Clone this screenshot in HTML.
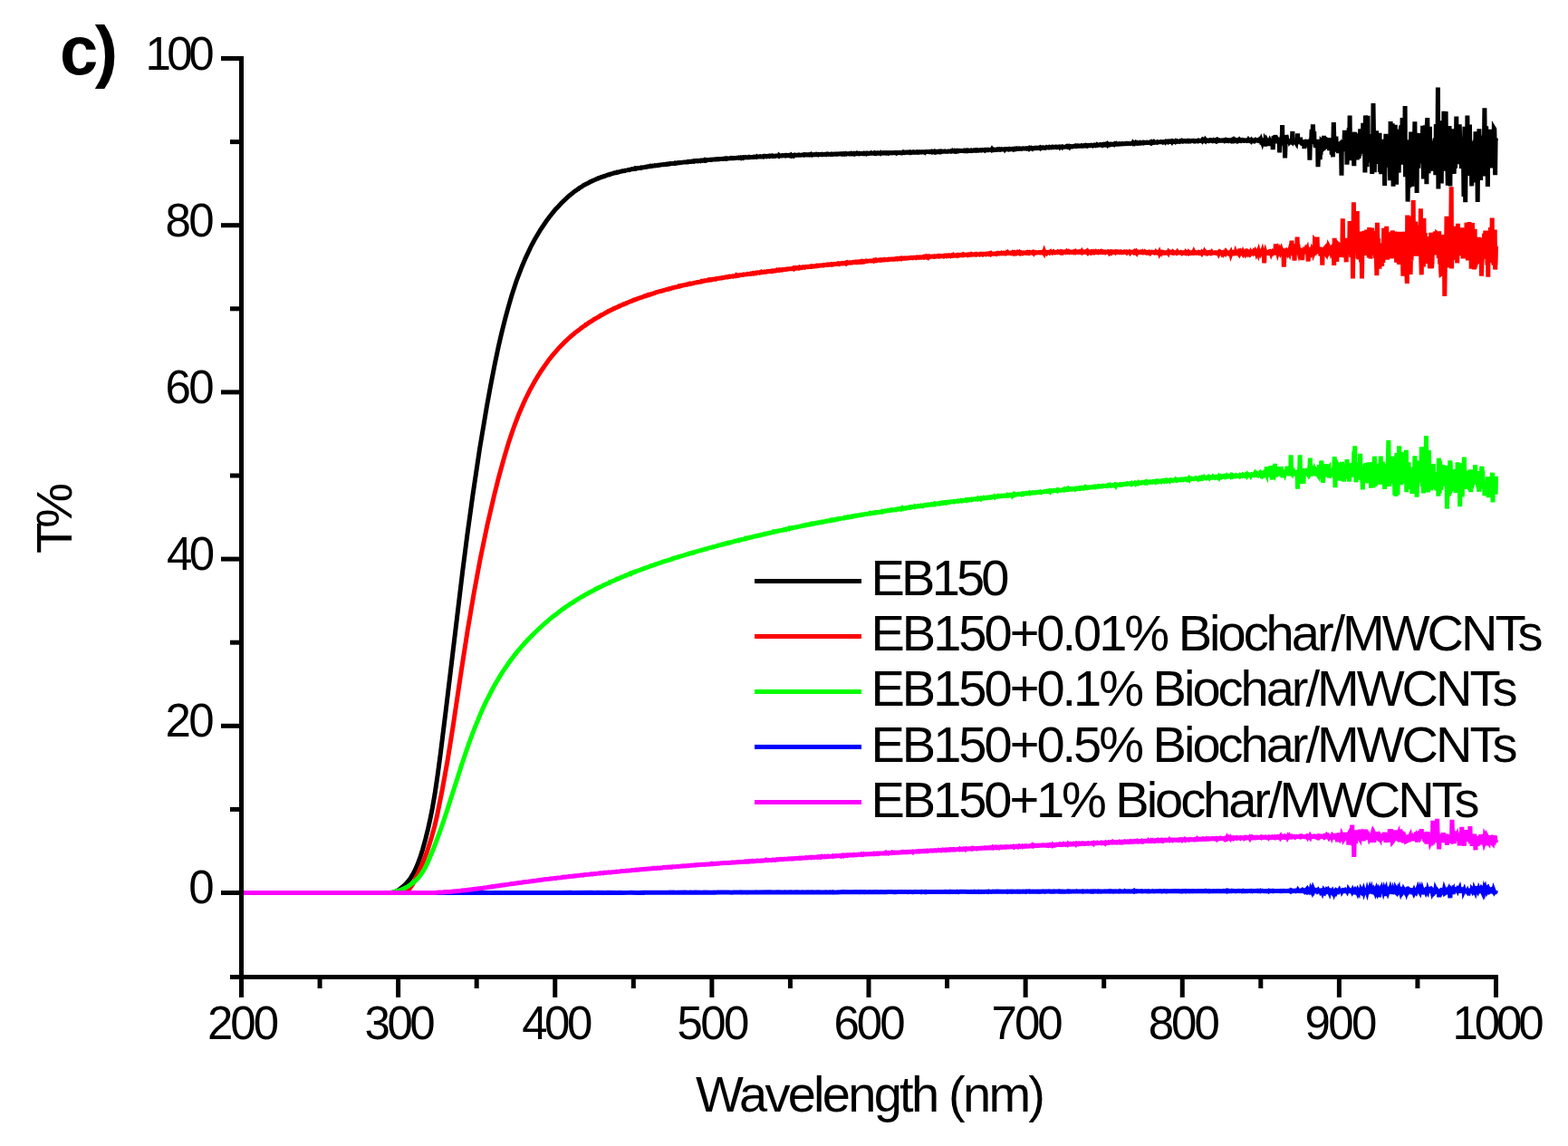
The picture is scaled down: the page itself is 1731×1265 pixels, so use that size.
<!DOCTYPE html>
<html><head><meta charset="utf-8"><style>
html,body{margin:0;padding:0;background:#fff;}
svg{display:block;}
text{font-family:"Liberation Sans",Arial,sans-serif;fill:#000;}
</style></head><body>
<svg width="1731" height="1265" viewBox="0 0 1731 1265">
<rect width="1731" height="1265" fill="#fff"/>
<g fill="none" stroke-width="5" stroke-linejoin="miter" stroke-linecap="butt">
<path d="M266.5,985.5 434.0,985.5 437.9,983.6 440.9,981.8 444.4,979.1 447.4,976.3 450.9,972.4 453.5,968.9 455.6,965.4 458.2,960.5 460.8,954.6 464.3,945.0 466.5,938.0 469.9,925.6 472.5,915.1 475.1,903.3 477.3,892.3 479.9,877.3 483.3,854.3 486.4,831.2 493.3,775.2 510.6,631.2 515.8,590.7 521.9,546.6 529.6,495.0 537.4,448.7 541.3,427.3 546.1,402.6 550.4,382.0 553.9,366.9 557.8,351.3 561.7,337.1 564.7,326.8 570.3,309.6 576.4,293.7 580.3,284.6 586.3,271.8 590.2,264.6 596.7,253.6 602.8,244.5 606.7,239.2 613.6,230.6 614.5,229.9 619.7,224.2 627.9,216.4 632.7,212.7 634.0,211.4 635.7,210.4 638.3,208.5 638.7,208.5 639.6,207.6 643.0,205.6 643.5,205.1 646.1,203.6 646.9,203.3 647.4,202.9 649.5,202.0 650.8,201.1 651.3,201.1 652.1,200.5 653.0,200.1 653.4,200.1 654.7,199.2 655.2,199.2 656.0,198.7 657.8,198.1 658.2,197.7 659.9,197.2 660.4,196.8 660.8,196.9 661.7,196.3 662.5,196.2 663.0,195.8 663.8,195.5 664.3,195.5 665.6,195.1 666.0,194.7 666.9,194.7 667.3,194.4 667.7,194.3 671.2,193.0 672.5,192.8 672.9,192.4 673.3,192.5 674.2,192.1 676.8,191.5 677.7,191.0 680.7,190.6 681.1,190.2 681.6,190.3 682.4,189.9 683.7,189.8 684.2,189.5 686.3,189.0 686.8,189.0 687.2,188.8 689.8,188.5 690.2,188.1 692.4,187.9 694.1,187.4 694.6,187.6 697.6,186.6 698.0,186.7 700.6,186.3 701.0,185.9 701.9,186.2 702.3,185.8 704.1,185.7 704.9,185.4 707.1,185.2 707.5,185.0 708.0,185.3 708.4,185.0 710.1,184.7 711.9,184.5 712.7,184.3 713.2,184.4 713.6,184.2 714.9,184.1 715.3,183.8 716.6,183.7 717.1,183.5 717.5,183.6 717.9,183.3 718.4,183.6 718.8,183.5 719.7,183.2 720.1,183.4 721.0,183.1 722.7,183.0 723.1,182.7 724.0,182.8 725.3,182.5 725.7,182.6 726.1,182.3 727.4,182.5 728.7,182.1 729.6,182.1 730.9,181.7 731.8,181.8 732.6,181.6 733.1,181.7 734.4,181.3 735.7,181.4 736.1,181.2 736.5,181.3 737.0,181.0 737.8,181.1 738.7,180.8 739.6,180.9 740.0,180.6 741.7,180.6 743.9,180.3 744.3,180.4 744.8,180.1 745.2,180.3 745.6,180.0 746.9,180.2 747.8,179.8 748.2,179.9 749.1,179.6 750.4,179.7 750.8,179.5 751.7,179.5 753.0,179.2 753.4,179.3 755.6,178.9 758.2,178.9 759.0,178.5 759.5,178.7 760.3,178.4 760.8,178.6 762.1,178.3 763.4,178.4 763.8,178.1 764.7,178.2 765.1,177.9 765.5,177.9 766.0,178.2 766.4,177.8 766.8,178.0 768.1,177.6 769.0,177.8 769.4,177.5 770.7,177.8 771.2,177.5 771.6,177.6 772.9,177.2 773.3,177.5 773.8,177.1 775.1,177.3 775.5,177.0 776.4,177.0 777.2,177.2 777.7,176.7 778.1,177.0 778.5,176.6 778.9,176.8 779.4,176.7 779.8,177.0 780.7,176.6 783.3,176.6 784.6,176.2 785.4,176.4 787.2,176.0 788.0,176.1 790.2,175.8 791.1,175.9 791.9,175.6 793.2,175.9 793.7,175.5 795.8,175.6 797.1,175.3 798.4,175.5 799.3,175.1 799.7,175.2 800.6,175.0 801.0,175.2 801.9,174.9 802.3,175.2 802.8,174.9 803.6,175.0 806.2,174.7 806.6,174.5 807.5,174.7 807.9,174.6 808.8,174.7 809.2,174.5 810.1,174.7 813.1,174.2 813.6,174.3 814.9,174.3 815.3,174.1 815.7,174.3 817.5,174.0 817.9,174.3 818.3,173.8 819.2,174.1 820.1,173.8 820.5,174.1 820.9,173.7 821.8,173.8 822.7,173.5 823.1,173.8 825.3,173.5 825.7,173.8 826.6,173.6 827.0,173.3 827.9,173.6 831.3,173.2 831.8,173.4 832.2,173.1 833.9,173.3 834.8,173.2 835.2,172.9 835.6,173.3 836.5,173.0 838.2,172.9 839.1,172.6 840.0,172.9 841.7,172.9 842.1,172.7 842.6,172.9 843.0,172.4 843.9,172.5 844.3,172.3 845.2,172.7 846.0,172.5 846.5,172.7 847.3,172.4 848.6,172.5 849.1,172.2 849.5,172.5 849.9,172.3 850.4,172.4 850.8,172.1 852.1,172.4 852.5,172.1 853.0,172.4 853.8,172.1 854.3,172.3 854.7,172.2 855.6,172.4 856.4,172.0 857.3,172.1 858.6,171.9 859.5,172.3 859.9,171.6 860.3,172.0 861.6,172.0 863.3,171.6 863.8,171.9 865.5,171.6 866.4,171.9 866.8,171.8 867.2,171.5 867.7,171.8 868.5,171.4 869.8,171.6 870.7,171.4 871.6,171.8 872.0,171.4 872.9,171.5 873.3,171.8 873.7,171.2 874.2,171.6 874.6,171.3 875.5,171.4 875.9,171.8 876.3,171.3 876.8,171.1 877.2,171.5 877.6,171.2 880.7,171.3 882.0,171.0 882.4,171.2 884.1,171.3 885.4,170.9 886.7,170.9 887.2,171.1 887.6,170.8 888.0,171.0 888.5,170.7 889.3,170.9 890.2,170.7 891.0,171.0 892.8,170.7 893.6,171.0 894.5,170.6 895.4,170.9 895.8,170.4 896.7,171.0 897.1,170.8 898.4,170.8 898.8,170.6 900.6,170.7 901.0,170.4 901.4,170.7 902.7,170.6 903.2,170.8 903.6,170.4 905.8,170.5 907.1,170.3 907.5,170.6 907.9,170.4 909.7,170.5 911.8,170.2 912.3,170.5 913.1,170.0 914.4,170.3 914.9,170.1 917.0,170.6 917.9,170.0 919.2,170.4 920.5,170.1 921.3,170.2 921.8,170.0 922.6,170.2 923.1,170.0 923.9,170.3 924.4,170.0 927.8,169.8 928.7,170.0 929.1,169.8 929.6,169.8 930.0,170.1 930.9,169.8 931.3,170.0 931.7,169.8 932.2,170.1 932.6,169.8 933.5,170.0 933.9,169.7 934.3,170.0 934.8,169.7 936.5,169.8 937.4,169.6 937.8,169.9 939.1,169.9 939.5,169.5 940.0,169.9 940.4,169.9 940.8,169.6 941.7,169.9 942.6,169.4 943.0,169.6 943.4,170.0 944.3,169.4 946.0,169.6 946.4,169.2 947.3,169.7 948.2,169.5 948.6,169.7 949.0,169.3 952.1,169.6 952.9,169.3 953.8,169.6 954.2,169.2 955.5,169.3 956.4,169.2 956.8,169.7 957.7,169.2 959.4,169.4 959.9,169.2 961.2,169.2 961.6,168.9 962.0,169.2 962.9,169.3 963.3,169.1 964.2,169.2 965.1,168.8 965.5,169.2 965.9,169.0 966.8,169.4 967.2,169.0 968.5,169.2 969.0,168.9 969.4,169.2 970.7,169.0 971.6,169.1 972.0,168.8 972.4,169.3 972.9,168.9 973.7,168.9 974.6,169.1 975.4,168.7 975.9,168.9 976.3,168.7 977.6,168.9 978.0,169.1 978.5,168.7 978.9,168.9 979.3,168.8 980.2,169.2 980.6,168.9 981.1,169.1 981.9,168.6 982.8,168.5 984.1,168.9 985.8,168.6 987.6,168.7 988.4,168.3 989.3,168.5 989.7,168.9 990.2,168.5 991.0,168.8 992.8,168.4 993.6,168.7 994.9,168.6 995.4,168.8 995.8,168.4 997.1,168.6 997.5,168.0 998.0,168.3 998.8,168.2 999.3,168.5 1000.5,168.1 1001.8,168.4 1002.7,168.0 1004.4,168.6 1004.9,168.1 1005.3,168.4 1006.2,168.4 1007.0,168.0 1007.5,168.1 1007.9,167.9 1008.8,168.2 1009.2,167.8 1010.5,168.3 1011.4,168.2 1011.8,167.9 1012.7,168.2 1013.1,167.9 1014.0,168.2 1014.8,167.7 1015.7,168.0 1016.1,167.9 1017.0,168.1 1017.4,167.8 1018.3,167.8 1018.7,167.7 1019.2,167.9 1020.0,167.9 1020.9,167.7 1021.3,168.1 1021.8,167.6 1024.4,167.6 1025.7,167.8 1026.5,167.5 1027.0,167.7 1027.8,167.6 1028.2,167.3 1028.7,167.7 1029.1,167.5 1029.5,167.8 1030.8,167.3 1031.3,167.7 1031.7,167.3 1032.1,167.6 1032.6,167.4 1033.0,167.8 1033.4,167.4 1033.9,167.6 1035.2,167.3 1035.6,167.6 1036.5,167.2 1037.3,167.7 1037.8,167.3 1038.2,167.5 1038.6,167.2 1039.1,167.5 1039.5,167.2 1039.9,167.4 1042.1,167.0 1043.0,167.1 1043.4,167.0 1043.8,167.2 1046.0,167.0 1046.4,167.2 1046.9,166.9 1049.0,166.9 1049.5,167.1 1049.9,166.8 1050.8,167.2 1051.2,167.1 1051.6,166.6 1052.1,167.0 1052.9,166.9 1053.4,166.6 1053.8,166.9 1054.2,166.6 1054.7,167.0 1055.1,166.9 1055.5,167.2 1056.4,166.5 1056.8,166.9 1057.7,166.6 1058.1,166.9 1059.0,166.4 1062.0,166.6 1063.7,166.5 1064.2,166.2 1064.6,166.5 1065.0,166.3 1065.5,166.4 1065.9,166.2 1066.3,166.5 1067.2,166.1 1067.6,166.4 1068.1,166.2 1068.5,166.6 1069.4,166.2 1070.7,166.4 1071.5,166.3 1072.0,166.0 1072.8,166.5 1074.6,166.0 1075.0,166.1 1075.4,165.9 1075.9,166.1 1076.7,165.9 1077.2,166.1 1077.6,165.8 1078.0,166.0 1078.5,165.8 1078.9,166.3 1079.3,166.3 1079.8,166.1 1080.2,166.2 1081.9,165.7 1082.4,165.9 1083.2,165.7 1083.7,165.9 1084.5,165.5 1084.9,165.7 1086.2,165.5 1087.1,166.0 1087.5,165.5 1088.0,165.7 1088.4,165.7 1088.8,165.4 1089.7,165.8 1090.6,165.8 1091.0,165.3 1091.9,165.5 1094.0,165.3 1094.5,165.5 1094.9,164.9 1095.3,165.6 1096.2,165.1 1096.6,165.4 1097.1,165.1 1097.5,165.3 1097.9,165.2 1099.2,165.4 1099.7,165.1 1100.5,165.2 1101.0,164.9 1101.4,165.2 1102.3,164.9 1102.7,165.3 1103.1,165.3 1103.6,164.8 1104.4,165.2 1105.7,164.7 1106.2,164.9 1108.8,164.8 1109.2,165.3 1109.6,164.8 1110.1,164.9 1111.3,164.6 1113.1,165.0 1113.5,164.7 1113.9,164.8 1114.4,164.4 1115.2,164.8 1116.1,164.4 1116.5,164.6 1117.8,164.4 1118.3,164.8 1118.7,164.3 1119.6,164.3 1120.0,164.6 1120.4,164.3 1120.9,164.6 1122.2,164.0 1122.6,164.5 1124.8,164.0 1125.2,164.3 1126.5,164.0 1127.4,164.1 1127.8,164.3 1129.1,163.8 1131.3,164.0 1132.1,163.9 1132.6,164.0 1133.0,163.7 1133.9,164.0 1134.7,163.6 1135.6,163.5 1136.0,164.0 1136.5,163.4 1137.3,164.0 1138.2,163.9 1138.6,163.5 1139.5,164.1 1139.9,163.5 1140.8,163.5 1142.1,163.7 1142.5,163.3 1142.9,163.2 1144.2,163.6 1145.1,163.2 1146.0,163.5 1146.8,163.2 1147.3,163.4 1148.1,162.9 1148.6,163.4 1149.0,162.9 1149.4,163.1 1150.7,163.0 1151.2,162.8 1151.6,163.1 1152.5,163.0 1154.2,163.3 1155.1,162.6 1155.5,162.9 1157.2,162.6 1157.7,162.9 1158.1,162.9 1158.5,162.5 1159.0,162.8 1159.8,162.6 1160.3,162.8 1161.1,162.5 1161.6,162.6 1162.0,162.2 1162.4,162.4 1163.3,162.3 1163.7,162.5 1164.6,162.3 1165.9,162.6 1166.3,162.2 1167.2,162.5 1168.0,162.2 1169.3,162.0 1169.8,162.6 1170.2,162.1 1171.5,162.2 1172.4,161.9 1172.8,162.4 1173.2,162.0 1175.4,162.2 1176.7,161.9 1177.6,161.5 1178.0,161.8 1178.4,161.6 1178.9,162.2 1180.2,161.6 1180.6,162.1 1181.0,161.4 1183.2,161.6 1183.6,161.9 1186.2,161.2 1187.5,161.5 1188.0,161.0 1188.8,161.3 1189.3,161.1 1189.7,161.3 1191.0,161.0 1191.4,161.2 1192.7,161.0 1193.6,161.1 1194.0,160.7 1195.3,161.2 1196.6,160.7 1197.5,161.0 1197.9,160.7 1198.3,161.0 1198.8,161.0 1199.2,160.6 1199.6,160.8 1200.1,160.7 1200.5,161.1 1201.4,160.6 1201.8,160.7 1202.2,160.5 1204.0,160.6 1204.8,160.2 1205.3,160.4 1206.1,160.3 1206.6,160.8 1207.9,160.1 1208.3,160.1 1209.2,160.5 1209.6,160.2 1210.9,160.4 1211.3,159.8 1211.8,160.2 1212.6,160.3 1213.5,159.9 1213.9,159.9 1214.4,159.7 1214.8,160.0 1215.7,160.1 1216.5,159.7 1217.0,160.2 1217.4,159.9 1217.8,160.2 1218.7,159.5 1219.1,159.9 1219.6,160.0 1220.4,159.4 1220.9,159.8 1221.7,159.7 1222.2,159.1 1222.6,159.7 1223.0,159.1 1223.9,159.7 1224.3,159.2 1224.7,159.1 1225.6,159.8 1226.0,159.7 1226.5,159.3 1226.9,159.6 1228.6,159.2 1229.9,159.7 1230.8,158.7 1231.7,159.2 1232.1,159.1 1232.5,158.7 1233.0,159.1 1234.3,159.0 1235.1,159.2 1236.0,158.7 1237.3,158.9 1238.6,158.6 1239.0,159.0 1239.9,158.9 1241.6,158.5 1242.5,158.7 1243.4,158.3 1244.2,158.6 1245.1,158.3 1246.8,158.4 1247.7,158.7 1249.0,158.2 1249.8,158.2 1250.3,158.4 1250.7,157.7 1251.1,158.2 1251.6,157.8 1252.4,158.4 1253.3,157.6 1253.7,158.3 1254.2,158.3 1254.6,158.1 1255.0,158.2 1255.5,157.8 1255.9,158.2 1256.3,158.3 1257.2,157.9 1258.1,158.1 1258.5,157.7 1258.9,158.1 1259.8,157.8 1260.2,158.0 1261.1,157.9 1261.5,157.6 1262.0,157.8 1262.4,157.4 1262.8,157.6 1263.3,157.3 1263.7,157.3 1264.1,157.7 1265.9,157.6 1266.3,157.3 1266.7,157.5 1268.9,157.2 1269.8,157.4 1270.2,157.7 1270.6,157.1 1271.1,157.4 1271.5,157.0 1271.9,157.5 1272.4,157.1 1273.2,157.4 1273.7,157.3 1274.1,156.8 1274.5,157.2 1275.0,157.0 1276.3,157.2 1277.1,157.0 1277.5,157.2 1278.0,156.7 1278.4,156.9 1280.1,156.8 1281.0,156.7 1281.4,156.5 1282.3,156.8 1283.6,156.6 1284.0,157.0 1284.5,156.7 1286.2,156.4 1286.6,156.9 1287.1,156.3 1287.5,156.6 1288.4,156.5 1288.8,156.2 1289.2,156.3 1289.7,156.7 1290.1,156.3 1290.5,156.6 1291.8,156.6 1292.3,156.1 1293.1,156.5 1293.6,156.1 1294.0,156.7 1294.4,156.2 1294.9,156.3 1295.3,156.1 1295.7,156.3 1297.0,156.0 1297.5,156.4 1297.9,155.9 1298.3,156.3 1299.2,156.2 1299.6,155.9 1300.1,156.3 1301.8,156.0 1302.2,156.2 1302.7,155.8 1303.1,156.1 1303.5,156.1 1304.4,155.4 1304.8,155.9 1305.2,155.9 1305.7,156.2 1307.0,155.6 1307.4,155.8 1308.3,155.6 1309.1,156.0 1310.0,155.6 1310.4,155.8 1311.3,155.4 1311.7,155.8 1312.2,155.6 1312.6,155.9 1313.5,155.5 1314.3,155.9 1315.2,155.4 1316.9,155.3 1317.8,155.8 1318.2,155.5 1319.5,155.9 1320.0,155.5 1321.7,155.5 1322.1,155.7 1322.6,155.3 1323.0,155.5 1323.4,155.2 1323.9,155.4 1325.6,155.3 1326.5,155.5 1326.9,155.0 1327.3,155.5 1327.8,154.8 1328.2,155.4 1328.6,155.5 1329.1,155.1 1329.9,155.1 1330.4,155.5 1330.8,154.5 1331.2,155.0 1331.7,154.8 1332.5,155.5 1334.2,155.0 1334.7,155.5 1336.0,154.8 1336.8,155.4 1337.7,155.5 1338.1,154.9 1338.6,155.0 1339.0,155.4 1339.4,155.1 1339.9,155.3 1340.3,154.7 1341.2,155.1 1342.0,154.9 1342.5,154.6 1342.9,155.4 1343.8,154.7 1344.2,155.3 1344.6,155.0 1345.1,155.2 1345.9,154.8 1346.4,154.8 1347.2,155.2 1348.5,155.3 1349.0,155.0 1349.8,155.2 1352.0,154.5 1352.4,155.3 1353.3,154.8 1353.7,155.3 1354.6,154.9 1355.0,155.2 1355.5,154.9 1356.3,155.4 1357.2,154.8 1358.1,155.2 1358.9,154.8 1359.4,155.4 1360.2,154.6 1361.1,155.5 1361.5,155.1 1361.9,155.2 1362.4,154.3 1363.2,155.2 1363.7,154.8 1364.1,155.3 1365.0,155.0 1365.4,155.4 1365.8,154.8 1367.1,155.0 1367.6,154.5 1368.0,155.3 1368.9,154.9 1369.3,155.1 1369.7,154.8 1370.2,155.3 1370.6,155.0 1371.0,155.1 1371.5,154.7 1372.3,155.1 1372.8,154.7 1373.6,154.9 1374.1,155.3 1375.4,155.1 1376.2,155.4 1376.7,155.0 1377.5,155.2 1378.0,154.4 1378.4,155.0 1378.8,155.1 1379.3,155.2 1379.7,154.9 1380.1,155.3 1380.6,154.8 1381.0,155.0 1381.4,155.5 1381.9,154.6 1382.3,155.0 1383.6,154.9 1384.0,155.3 1384.5,154.8 1384.9,154.7 1385.3,155.2 1385.8,154.7 1386.2,155.2 1387.1,154.9 1388.3,155.3 1388.8,154.9 1389.2,155.1 1389.6,154.7 1390.1,155.1 1390.5,154.6 1390.9,155.2 1391.4,155.0 1391.8,154.2 1392.2,155.7 1392.7,155.2 1393.1,155.6 1393.5,156.8 1394.0,154.8 1394.8,160.3 1395.7,152.5 1396.1,155.6 1396.6,161.5 1397.0,155.0 1397.4,155.7 1397.9,154.4 1398.3,155.2 1399.2,155.8 1400.0,155.5 1400.5,155.7 1400.9,161.1 1401.3,156.4 1401.8,155.2 1402.2,156.0 1402.6,155.5 1403.1,155.3 1403.5,155.9 1403.9,155.8 1404.4,156.5 1404.8,156.4 1405.2,165.2 1406.1,150.2 1406.5,154.9 1407.0,154.7 1407.4,155.8 1407.8,149.1 1408.3,154.4 1408.7,155.6 1409.1,155.9 1409.6,155.8 1410.0,154.6 1410.4,155.2 1410.9,157.1 1411.3,155.0 1411.7,155.5 1412.2,157.5 1412.6,168.3 1413.0,155.3 1413.5,153.8 1413.9,156.2 1414.3,154.4 1414.8,155.9 1415.2,154.9 1415.6,138.1 1416.0,157.9 1416.5,155.8 1416.9,157.1 1417.3,156.9 1417.8,155.1 1418.2,156.4 1418.6,174.4 1419.1,157.3 1419.5,156.6 1419.9,149.3 1420.4,150.9 1420.8,156.8 1422.1,156.8 1422.5,154.2 1423.0,156.9 1423.4,154.9 1423.8,156.5 1424.3,155.9 1424.7,156.7 1425.1,156.9 1425.6,155.9 1426.0,156.3 1426.4,153.0 1426.9,145.0 1427.3,158.4 1427.7,157.4 1428.2,154.1 1428.6,159.6 1429.0,155.4 1429.5,159.0 1429.9,157.3 1430.3,156.8 1430.8,157.6 1431.2,154.3 1431.6,156.6 1432.1,156.2 1432.5,147.3 1432.9,156.2 1433.4,155.6 1433.8,155.5 1434.2,158.4 1434.7,155.3 1435.1,157.5 1435.5,151.8 1436.0,156.7 1436.4,157.7 1436.8,157.9 1437.3,155.9 1437.7,157.6 1438.1,160.7 1438.6,154.9 1439.0,156.4 1439.4,155.5 1439.9,164.0 1440.3,154.3 1441.2,159.1 1441.6,155.4 1442.0,156.9 1442.9,154.4 1443.3,157.1 1443.8,162.3 1444.2,156.5 1445.5,160.1 1445.9,176.6 1446.3,158.9 1447.2,153.1 1447.6,155.7 1448.1,142.8 1448.5,158.3 1448.9,154.9 1449.4,137.3 1450.2,157.1 1450.7,145.1 1451.1,158.8 1451.5,156.8 1452.0,160.7 1452.4,162.7 1453.7,154.0 1454.1,159.4 1454.6,155.2 1455.0,184.2 1455.9,161.3 1456.3,160.6 1456.7,154.1 1457.2,176.3 1457.6,161.5 1458.0,161.0 1458.5,162.0 1458.9,155.7 1459.3,156.1 1459.8,160.6 1460.2,158.9 1460.6,158.6 1461.1,165.6 1461.5,149.7 1461.9,163.3 1462.4,162.9 1462.8,151.2 1463.7,159.2 1464.1,160.1 1464.5,160.4 1465.4,152.3 1465.8,163.5 1466.3,157.1 1466.7,162.9 1467.1,152.1 1467.6,166.1 1468.0,157.1 1468.4,155.2 1468.9,162.2 1469.3,163.4 1469.7,156.9 1470.2,170.6 1470.6,155.2 1471.0,156.9 1471.5,173.3 1472.3,135.1 1473.2,167.4 1474.9,150.5 1475.3,159.1 1475.8,156.7 1476.2,159.8 1476.6,167.3 1477.1,159.5 1477.5,169.1 1477.9,159.6 1478.4,160.7 1478.8,160.7 1479.2,163.4 1479.7,156.5 1480.1,162.6 1480.5,160.4 1481.0,193.8 1481.4,155.1 1481.8,167.0 1482.3,161.1 1482.7,161.8 1483.1,160.3 1483.6,160.0 1484.0,156.8 1484.4,143.8 1484.9,161.0 1485.3,159.0 1485.7,158.1 1486.2,167.2 1486.6,150.4 1487.0,181.8 1487.5,165.1 1487.9,167.0 1488.3,165.4 1488.8,166.5 1489.2,141.0 1489.6,164.9 1490.1,127.6 1490.5,166.9 1490.9,153.8 1491.4,161.5 1491.8,154.3 1492.2,177.3 1493.1,146.2 1493.5,161.3 1494.0,168.0 1494.4,166.7 1494.8,183.3 1495.3,148.2 1495.7,145.8 1496.1,167.3 1496.6,169.0 1497.0,151.1 1497.9,150.6 1498.3,176.3 1499.1,156.8 1499.6,158.0 1500.0,174.9 1500.4,148.4 1500.9,172.3 1501.3,164.6 1501.7,142.4 1502.2,145.3 1502.6,165.0 1503.0,168.2 1503.9,147.6 1504.3,165.1 1504.8,135.7 1505.2,169.6 1505.6,159.5 1506.1,161.3 1506.5,152.3 1506.9,190.4 1507.4,127.4 1508.2,170.6 1508.7,151.3 1509.1,184.2 1509.5,137.1 1510.0,127.7 1510.4,179.4 1510.8,160.8 1511.3,171.4 1511.7,152.6 1512.1,152.9 1512.6,173.9 1513.4,150.3 1513.9,148.3 1514.7,191.9 1515.2,148.9 1515.6,174.3 1516.0,114.0 1516.9,174.6 1517.3,190.3 1517.8,164.2 1518.2,172.6 1518.6,167.8 1519.1,181.0 1519.5,144.2 1519.9,174.7 1520.4,155.7 1520.8,157.4 1521.2,163.4 1521.7,159.9 1522.1,149.9 1522.5,159.0 1523.0,146.8 1523.4,190.0 1524.3,156.3 1524.7,192.1 1525.1,186.7 1526.0,154.3 1527.3,188.7 1527.7,160.8 1528.1,153.9 1528.6,205.0 1529.9,147.7 1530.3,172.9 1530.7,184.2 1531.2,177.7 1531.6,179.0 1532.0,165.1 1532.5,184.7 1532.9,153.5 1533.3,156.5 1533.8,155.4 1534.2,152.9 1534.6,199.3 1535.1,134.1 1535.5,168.7 1535.9,146.8 1536.4,142.2 1536.8,166.3 1537.2,136.4 1538.1,205.7 1538.5,162.6 1539.0,172.8 1539.4,149.3 1539.8,173.3 1540.3,137.8 1540.7,168.1 1541.1,162.4 1541.6,203.7 1542.0,163.0 1542.9,154.5 1543.3,142.9 1543.7,178.4 1544.2,190.7 1544.6,157.8 1545.0,177.4 1545.5,163.4 1545.9,171.9 1546.3,142.1 1546.8,138.7 1547.2,150.7 1547.6,181.6 1548.1,130.1 1548.5,164.8 1549.4,147.9 1549.8,165.6 1550.7,174.5 1551.1,117.0 1551.5,195.3 1552.0,156.1 1552.4,191.9 1552.8,158.2 1553.3,154.3 1553.7,176.9 1554.1,222.6 1555.0,158.6 1555.4,169.1 1555.8,207.3 1556.3,175.6 1556.7,166.6 1557.1,199.3 1557.6,145.4 1558.0,178.8 1558.4,185.2 1558.9,205.9 1559.3,155.2 1559.7,187.5 1560.2,164.6 1560.6,188.2 1561.0,163.4 1561.5,153.4 1561.9,134.3 1562.3,178.4 1562.8,168.3 1563.2,185.9 1563.6,155.3 1564.1,212.9 1564.5,152.4 1564.9,174.8 1565.4,173.1 1565.8,185.7 1566.7,148.7 1567.1,147.4 1567.5,180.5 1568.0,167.5 1568.4,171.9 1568.8,150.6 1569.3,168.2 1569.7,169.6 1570.1,177.0 1570.6,138.8 1571.0,151.6 1571.4,197.5 1571.9,158.5 1572.3,164.2 1572.7,158.4 1573.2,138.2 1573.6,146.0 1574.0,172.6 1574.5,153.5 1574.9,203.2 1575.3,138.3 1575.8,130.1 1576.2,155.4 1576.6,143.6 1577.1,191.4 1577.5,158.1 1577.9,175.5 1578.4,139.9 1578.8,178.2 1579.2,177.8 1579.7,188.8 1580.1,170.0 1580.5,175.5 1581.0,169.1 1581.4,183.1 1581.8,158.4 1582.2,176.1 1582.7,155.5 1583.1,179.1 1583.5,161.0 1584.0,154.1 1584.4,153.6 1584.8,193.3 1585.3,137.3 1585.7,138.7 1586.1,178.0 1586.6,147.8 1587.0,157.6 1587.4,96.6 1587.9,208.4 1588.3,153.8 1588.7,152.9 1589.2,159.1 1589.6,146.4 1590.0,175.6 1590.5,139.1 1591.3,202.6 1591.8,133.3 1592.2,177.2 1592.6,180.8 1593.5,162.9 1593.9,122.8 1594.4,188.8 1594.8,138.4 1595.2,162.8 1595.7,173.3 1596.1,123.1 1596.5,165.4 1597.0,177.7 1597.4,180.0 1597.8,178.0 1598.3,204.6 1598.7,172.0 1599.1,185.7 1599.6,181.1 1600.0,139.2 1600.4,152.5 1600.9,205.6 1601.3,161.8 1601.7,165.6 1602.2,142.3 1602.6,160.5 1603.0,142.4 1603.9,177.2 1604.3,151.4 1604.8,163.4 1605.2,191.9 1605.6,175.7 1606.1,176.6 1606.5,185.6 1606.9,156.7 1607.4,159.7 1607.8,128.6 1608.2,180.7 1608.7,163.2 1609.1,167.0 1609.5,146.7 1610.0,178.7 1610.4,178.8 1610.8,170.5 1611.2,137.4 1612.1,166.5 1612.5,156.3 1613.4,186.0 1613.8,153.0 1614.3,163.8 1614.7,154.3 1615.1,186.5 1615.6,184.0 1616.0,217.0 1616.4,167.3 1616.9,139.7 1617.7,223.2 1618.2,170.8 1618.6,178.9 1619.0,161.9 1619.5,180.8 1619.9,127.5 1620.3,187.1 1620.8,169.8 1621.6,157.9 1622.1,193.9 1622.5,137.5 1622.9,191.1 1623.4,157.8 1623.8,168.2 1624.2,174.1 1624.7,205.4 1625.1,172.1 1625.5,171.9 1626.8,156.1 1627.7,201.4 1628.1,154.6 1628.6,170.5 1629.0,145.4 1629.4,185.3 1629.9,180.5 1630.3,169.7 1630.7,152.3 1631.2,222.9 1631.6,179.2 1632.0,164.2 1632.5,181.5 1632.9,142.2 1633.3,156.3 1633.8,149.6 1634.6,199.0 1635.1,164.7 1635.5,189.0 1635.9,166.9 1636.4,159.8 1636.8,186.6 1637.2,177.7 1637.6,194.3 1638.1,185.9 1638.9,119.3 1639.4,170.0 1639.8,145.2 1640.2,140.7 1640.7,139.4 1641.1,155.2 1642.0,171.8 1642.4,206.0 1642.8,144.4 1643.3,167.1 1643.7,143.7 1644.1,148.4 1644.6,168.5 1645.0,175.2 1645.4,142.9 1645.9,175.8 1646.3,149.6 1646.7,185.4 1647.2,166.2 1647.6,184.4 1648.0,177.9 1648.5,161.7 1648.9,176.2 1649.3,141.6 1649.8,142.4 1650.2,160.3 1650.6,193.2 1651.1,152.9 1651.5,155.7" stroke="#000000"/>
<path d="M266.5,985.5 444.8,985.5 447.4,984.5 450.9,982.1 452.2,980.9 455.2,976.7 457.4,972.8 461.7,963.9 466.0,954.1 470.8,942.0 474.2,931.6 476.8,922.9 479.9,911.6 482.9,898.6 488.5,870.6 494.2,838.8 500.2,801.1 509.7,737.6 516.2,695.8 523.2,654.7 530.1,617.4 537.9,579.8 545.7,546.3 550.4,527.5 556.5,505.3 561.2,489.5 564.3,480.2 567.3,471.5 572.1,458.8 577.7,445.7 580.3,440.0 584.6,431.3 590.7,420.3 597.2,409.7 605.8,397.4 610.6,391.4 616.2,385.1 616.6,384.4 624.0,376.9 625.7,375.6 626.2,374.9 627.9,373.3 634.0,368.0 640.5,363.2 641.3,362.3 641.7,362.2 644.8,359.8 646.1,359.2 646.5,358.6 646.9,358.6 650.8,355.7 652.6,354.8 656.5,352.1 657.8,351.6 659.9,350.2 661.2,349.6 662.1,348.8 662.5,348.8 663.0,348.4 664.3,347.6 664.7,347.6 669.4,344.8 670.7,344.4 671.6,343.5 673.3,343.0 674.2,342.3 674.6,342.3 675.9,341.7 676.4,341.3 676.8,341.3 677.2,340.8 678.5,340.5 679.4,339.8 680.7,339.5 681.6,338.9 682.9,338.4 683.3,338.0 683.7,338.1 685.5,337.0 686.8,336.7 688.1,336.1 688.5,336.1 688.9,335.6 689.4,335.6 690.7,334.9 691.1,334.9 691.5,334.5 693.7,333.8 695.0,333.1 696.3,332.8 697.1,332.2 698.0,332.1 698.4,331.7 699.3,331.4 699.7,331.1 700.6,331.1 701.5,330.6 702.8,330.3 703.2,329.9 706.2,328.8 710.1,327.6 711.4,326.9 711.9,327.0 713.2,326.4 713.6,326.5 715.3,325.6 715.8,325.7 716.2,325.3 716.6,325.4 717.9,325.1 718.4,324.7 720.1,324.2 720.5,324.2 721.8,323.7 722.7,323.6 724.8,322.6 725.3,322.6 727.9,321.7 729.6,321.4 730.0,321.2 730.5,321.2 730.9,320.9 731.8,320.8 733.5,320.1 734.8,319.9 737.8,319.0 738.3,319.1 738.7,318.7 740.4,318.5 741.3,318.0 742.2,317.8 743.0,317.8 743.5,317.5 745.6,316.9 747.4,316.7 747.8,316.5 749.1,316.2 749.5,315.8 750.4,316.0 750.8,315.7 751.7,315.6 752.1,315.3 753.0,315.3 753.8,314.9 755.1,314.8 757.7,314.0 758.6,314.1 759.9,313.6 760.8,313.6 761.2,313.3 761.6,313.5 762.1,313.2 762.5,313.3 763.4,312.9 765.1,312.7 766.8,312.1 769.4,311.8 769.9,311.4 771.2,311.4 772.9,311.1 774.2,310.5 774.6,310.8 776.4,310.1 777.2,310.2 778.1,309.8 779.8,309.7 781.1,309.4 781.5,309.1 782.0,309.3 782.8,309.2 783.3,308.8 783.7,309.0 784.1,308.8 785.0,308.9 785.4,308.5 786.3,308.6 786.7,308.3 787.6,308.3 789.3,308.0 790.2,308.1 790.6,307.7 791.1,307.8 792.8,307.3 794.5,307.2 795.0,306.9 796.7,306.9 797.1,306.6 797.6,306.7 798.0,306.5 798.9,306.5 801.5,305.8 802.3,305.9 803.2,305.6 803.6,305.8 804.5,305.4 805.4,305.5 805.8,305.1 806.6,305.2 808.8,304.8 809.2,305.0 809.7,304.6 811.0,304.5 811.4,304.6 812.3,304.5 812.7,304.0 813.1,304.4 814.0,304.0 814.4,304.2 814.9,304.0 815.7,304.1 816.6,303.6 817.0,303.7 817.5,303.5 818.8,303.4 819.2,303.5 820.1,303.2 820.5,303.3 820.9,303.0 822.2,303.1 824.4,302.8 825.3,302.4 826.1,302.5 828.3,302.3 828.7,302.0 829.2,302.2 829.6,301.9 830.0,301.9 830.5,301.7 830.9,301.9 831.3,301.6 831.8,301.9 832.2,301.5 832.6,301.6 833.5,301.4 833.9,301.6 834.4,301.3 834.8,301.5 835.2,301.1 836.1,300.9 836.5,301.1 836.9,301.1 838.2,300.8 838.7,301.1 839.5,300.5 840.0,300.6 840.4,300.3 840.8,300.7 841.3,300.7 843.0,300.1 843.4,300.3 844.7,300.0 846.0,300.1 847.3,299.6 849.5,299.6 851.7,299.0 852.1,299.4 853.0,299.0 853.4,299.2 853.8,298.9 855.6,298.7 856.4,298.8 857.3,298.2 857.7,298.6 859.0,298.3 859.9,298.4 860.3,298.0 860.8,298.2 861.6,297.8 862.5,298.0 862.9,297.7 863.3,297.6 863.8,297.9 865.1,297.4 867.2,297.5 868.1,297.0 869.4,297.2 869.8,296.9 871.6,296.7 872.4,296.8 873.7,296.6 874.2,296.4 874.6,296.6 875.5,296.4 875.9,296.1 876.3,296.5 876.8,295.8 878.1,296.2 878.5,295.8 878.9,296.0 879.8,295.8 880.7,296.0 882.0,295.3 882.4,295.8 883.3,295.3 884.1,295.6 885.0,295.2 885.4,295.5 885.9,295.3 886.7,295.2 887.2,294.8 888.5,295.2 888.9,294.8 889.8,294.6 891.5,294.6 891.9,294.8 892.3,294.6 893.2,294.6 894.5,294.1 894.9,294.3 895.4,294.1 895.8,294.3 896.7,293.8 897.5,294.1 898.0,293.9 898.8,293.8 899.3,294.0 901.0,293.4 901.4,293.7 902.3,293.3 902.7,293.5 903.6,293.3 904.5,293.3 904.9,293.0 907.5,293.0 907.9,292.8 908.8,292.7 909.2,292.9 909.7,292.5 910.5,292.7 911.8,292.4 912.3,292.5 912.7,292.2 913.6,292.3 914.0,292.1 914.4,292.3 914.9,292.1 915.7,292.2 916.6,291.9 917.0,292.0 917.4,291.7 918.3,292.1 918.7,291.8 919.2,292.0 920.5,291.5 920.9,291.7 921.3,291.5 923.9,291.3 924.8,290.9 925.7,291.4 926.1,291.2 926.5,291.4 927.4,290.8 927.8,290.8 928.3,291.0 929.1,290.8 929.6,290.9 930.0,290.6 930.4,290.8 930.9,290.6 931.7,290.7 932.2,290.5 932.6,290.7 933.0,290.6 933.5,290.3 933.9,290.7 934.3,290.2 935.2,290.4 935.6,289.9 936.1,290.3 938.2,289.9 938.7,290.1 939.1,289.8 940.8,289.9 941.3,289.5 941.7,289.4 942.1,289.6 943.0,289.4 944.7,289.6 945.1,289.2 946.0,289.6 946.9,289.0 948.2,289.4 948.6,289.1 949.0,289.2 949.5,288.8 950.3,289.1 950.8,288.7 951.2,288.8 951.6,288.5 952.1,289.0 952.5,288.7 952.9,288.8 953.4,288.4 953.8,288.4 954.2,288.8 954.7,288.5 956.0,288.5 956.4,288.1 957.3,288.3 958.1,288.3 960.3,287.9 963.8,287.8 964.2,287.6 964.6,287.9 965.1,287.4 965.5,287.7 965.9,287.5 966.8,287.7 967.2,287.2 967.7,287.6 968.5,287.3 969.8,287.3 970.3,287.1 970.7,287.3 971.6,287.3 972.0,287.0 972.4,287.4 972.9,287.3 973.7,286.9 975.0,287.0 975.9,286.5 976.3,286.9 977.6,286.8 978.0,286.5 979.8,286.7 980.6,286.3 981.1,286.6 982.4,286.1 983.7,286.3 985.0,286.0 987.6,286.1 988.0,285.8 988.9,285.6 989.7,285.8 990.6,285.4 991.0,285.8 991.5,285.5 992.8,285.6 993.6,285.2 994.1,285.6 995.4,285.0 995.8,285.5 996.2,285.3 997.1,285.3 998.0,285.0 998.4,285.3 1000.1,285.3 1000.5,284.9 1001.4,285.1 1002.7,285.0 1003.6,284.7 1004.9,284.7 1005.7,284.4 1007.5,284.8 1007.9,284.5 1009.2,284.3 1010.9,284.3 1011.4,284.6 1012.2,284.0 1012.7,284.2 1013.1,284.1 1014.0,284.3 1014.4,284.0 1015.3,284.1 1015.7,283.9 1017.4,284.1 1018.3,283.9 1019.2,283.4 1020.0,284.0 1020.9,283.3 1021.8,283.7 1022.2,283.3 1022.6,283.7 1023.1,283.4 1023.5,283.7 1023.9,283.5 1024.4,284.0 1024.8,283.3 1025.2,283.5 1025.7,283.2 1026.1,283.6 1026.5,283.4 1027.0,283.5 1027.8,283.1 1029.1,283.0 1030.0,283.3 1031.3,283.0 1031.7,283.2 1032.1,282.9 1033.0,283.1 1033.9,282.9 1034.7,283.0 1035.6,282.6 1036.0,282.8 1036.5,282.6 1036.9,283.0 1037.8,282.5 1038.6,282.8 1039.5,282.6 1040.8,282.7 1041.2,282.6 1041.7,282.9 1042.1,282.5 1042.5,282.7 1043.4,282.1 1044.3,282.1 1044.7,282.1 1045.1,282.5 1045.6,282.2 1046.0,282.4 1046.4,282.1 1046.9,282.2 1047.3,282.0 1047.7,282.3 1048.2,282.1 1049.0,282.1 1049.5,282.5 1049.9,282.2 1050.3,282.2 1050.8,281.8 1051.6,282.0 1052.1,281.6 1052.5,282.2 1054.7,281.8 1055.1,282.1 1055.9,282.0 1056.8,281.6 1057.2,282.0 1057.7,281.5 1059.0,281.8 1059.4,281.4 1060.3,281.6 1061.1,281.4 1061.6,281.6 1062.0,281.4 1062.4,281.4 1062.9,281.0 1063.3,281.4 1063.7,281.1 1064.2,281.5 1065.0,281.3 1066.8,281.3 1068.1,281.1 1068.5,281.5 1068.9,281.2 1069.8,281.3 1070.2,281.0 1071.5,281.2 1072.0,281.2 1072.4,280.7 1072.8,281.0 1073.7,281.0 1074.1,280.8 1075.0,280.9 1075.9,280.7 1076.7,281.0 1077.2,280.8 1077.6,281.0 1078.0,280.6 1078.5,280.9 1079.3,280.6 1081.1,280.5 1081.5,280.9 1082.4,280.3 1083.2,280.6 1083.7,280.5 1084.1,280.7 1084.5,280.3 1084.9,280.3 1085.4,280.8 1085.8,280.5 1087.1,280.5 1088.0,280.3 1088.4,280.6 1088.8,280.3 1089.7,280.4 1090.6,280.0 1091.4,280.5 1092.3,279.9 1093.2,280.6 1093.6,279.9 1094.0,279.6 1094.5,280.1 1095.3,280.3 1098.4,280.0 1098.8,280.1 1099.7,279.9 1100.1,280.2 1100.5,279.8 1101.4,279.9 1101.8,279.5 1102.7,280.0 1103.1,280.0 1103.6,279.6 1105.3,279.8 1105.7,279.4 1106.2,279.8 1107.5,279.6 1107.9,279.6 1108.3,279.3 1108.8,279.7 1110.1,279.4 1110.5,279.9 1110.9,279.8 1111.3,279.2 1111.8,279.6 1112.2,279.6 1112.6,279.0 1113.1,279.6 1113.9,279.6 1114.8,279.3 1116.1,279.7 1116.5,279.3 1117.4,279.5 1117.8,279.0 1118.3,279.5 1119.1,278.9 1119.6,279.5 1120.0,279.1 1120.9,279.6 1121.3,279.0 1122.2,279.3 1122.6,278.9 1123.0,279.4 1123.5,279.3 1123.9,279.4 1124.3,278.8 1124.8,279.2 1125.2,279.3 1125.6,278.8 1126.1,279.4 1126.5,278.9 1126.9,279.2 1127.4,278.9 1128.2,279.5 1128.7,279.1 1129.1,279.1 1129.5,279.4 1130.0,279.0 1132.6,279.4 1133.0,279.0 1133.4,279.2 1133.9,278.8 1134.3,279.2 1135.2,279.5 1135.6,278.7 1136.5,279.1 1136.9,278.7 1137.3,279.0 1137.8,279.0 1139.0,278.7 1139.9,279.1 1140.3,278.9 1140.8,279.4 1141.2,278.5 1142.1,279.0 1142.5,278.6 1143.4,279.0 1144.2,278.7 1144.7,279.0 1146.0,278.9 1146.8,278.5 1147.7,278.8 1148.1,278.7 1148.6,278.9 1149.0,278.8 1149.4,278.9 1150.3,278.5 1150.7,278.8 1151.6,278.5 1152.0,278.5 1152.5,279.3 1152.9,277.9 1153.3,278.9 1153.8,278.6 1155.1,278.5 1155.5,279.1 1155.9,278.5 1156.8,278.7 1158.5,278.2 1159.0,278.8 1159.8,278.0 1160.3,278.7 1161.6,278.4 1162.0,278.8 1162.9,278.0 1163.3,278.5 1164.2,278.6 1164.6,278.9 1165.5,278.4 1166.3,278.6 1167.2,278.4 1167.6,278.0 1168.0,278.3 1168.5,278.1 1168.9,278.4 1169.3,278.4 1170.2,278.8 1170.6,278.3 1171.1,278.7 1171.5,278.1 1172.8,278.8 1173.2,278.1 1174.1,278.4 1175.4,277.9 1176.3,278.3 1176.7,278.0 1177.1,278.7 1177.6,278.6 1178.0,277.8 1178.9,278.6 1179.3,278.6 1179.7,278.6 1180.2,277.9 1181.0,278.6 1181.9,278.2 1182.8,278.5 1183.2,278.3 1184.1,278.5 1184.5,278.1 1184.9,278.0 1185.4,278.4 1185.8,278.0 1186.2,278.4 1186.7,278.1 1187.1,278.4 1187.5,277.9 1188.0,278.5 1189.3,278.0 1189.7,278.2 1190.6,277.9 1191.0,278.5 1191.4,278.4 1191.9,278.5 1192.3,277.9 1192.7,277.7 1193.2,277.8 1193.6,278.4 1194.0,278.4 1194.4,277.7 1194.9,278.5 1195.7,277.9 1196.6,278.3 1198.3,277.8 1198.8,278.1 1199.2,277.8 1199.6,278.3 1200.1,278.0 1200.5,278.5 1200.9,277.8 1201.4,278.5 1201.8,278.0 1202.2,278.0 1203.1,278.4 1204.0,278.1 1204.4,278.7 1205.3,277.9 1206.1,278.6 1206.6,278.3 1207.4,278.7 1207.9,278.0 1208.3,278.3 1208.7,278.0 1209.6,278.3 1210.0,277.8 1210.5,278.2 1211.3,278.5 1212.2,277.9 1212.6,278.3 1213.1,277.9 1213.9,278.3 1214.4,278.0 1214.8,278.2 1215.7,277.5 1216.1,277.8 1216.5,277.7 1217.0,278.2 1217.4,277.9 1218.7,278.5 1219.1,278.1 1219.6,278.1 1220.4,278.6 1220.9,278.2 1221.3,278.3 1222.6,277.8 1223.0,278.2 1223.9,278.2 1224.3,278.8 1224.7,278.1 1225.2,278.3 1225.6,278.1 1226.0,278.6 1226.5,278.2 1226.9,278.7 1227.3,278.2 1228.2,278.5 1228.6,278.2 1229.1,278.5 1229.9,278.1 1230.4,278.1 1231.2,278.7 1231.7,278.1 1232.1,278.4 1232.5,278.1 1233.0,278.3 1233.4,277.9 1234.3,278.3 1234.7,278.1 1235.6,278.6 1236.9,278.0 1237.7,278.6 1238.2,278.3 1238.6,278.3 1239.0,278.5 1239.9,278.6 1241.2,277.9 1242.5,278.5 1243.4,278.2 1243.8,278.6 1244.2,278.0 1245.5,278.1 1246.0,278.3 1246.8,278.2 1247.3,278.8 1247.7,278.0 1249.0,278.5 1250.3,278.3 1251.1,278.6 1252.0,277.8 1252.4,278.5 1252.9,278.1 1253.7,278.8 1254.2,278.5 1254.6,279.0 1255.0,278.0 1255.5,278.5 1256.3,278.7 1256.8,278.3 1257.2,278.5 1258.1,278.5 1258.5,278.1 1258.9,278.0 1259.4,278.6 1260.2,278.5 1261.1,278.8 1261.5,278.2 1262.0,278.7 1262.4,278.9 1263.7,278.7 1264.1,278.1 1265.0,278.8 1265.4,279.0 1266.3,278.4 1266.7,278.5 1267.6,279.1 1268.5,278.4 1268.9,278.8 1269.3,278.7 1269.8,279.3 1270.2,278.8 1271.1,278.6 1271.5,278.3 1272.4,278.5 1272.8,278.4 1274.5,279.1 1275.0,278.7 1275.4,278.6 1275.8,278.1 1276.3,278.8 1276.7,278.9 1277.1,278.4 1278.0,278.5 1278.4,279.0 1278.8,278.9 1279.3,279.0 1279.7,278.3 1280.1,279.5 1280.6,278.5 1281.0,278.4 1281.4,278.8 1281.9,278.6 1282.3,279.2 1282.7,278.6 1283.2,278.5 1283.6,279.0 1284.0,279.1 1284.5,278.5 1285.8,278.7 1286.2,279.3 1287.5,279.1 1287.9,278.8 1288.4,279.0 1289.2,278.6 1289.7,279.3 1290.1,278.3 1290.5,278.8 1291.4,278.3 1291.8,278.7 1292.7,278.9 1293.1,278.6 1293.6,279.0 1294.0,278.9 1294.4,279.1 1294.9,278.3 1295.3,278.7 1295.7,278.6 1296.2,279.0 1296.6,278.6 1297.9,278.5 1298.3,278.6 1298.8,279.1 1299.6,278.1 1300.1,278.9 1300.5,278.7 1300.9,279.0 1301.4,279.0 1301.8,278.8 1302.7,278.7 1303.1,278.9 1303.5,278.6 1304.4,279.3 1304.8,278.7 1305.7,278.7 1306.1,279.1 1307.0,279.4 1307.8,279.0 1308.3,279.1 1308.7,278.5 1309.1,279.1 1309.6,279.0 1310.0,279.6 1310.4,279.4 1310.9,278.7 1311.3,278.8 1311.7,279.2 1312.2,278.3 1313.0,279.1 1313.9,279.0 1314.3,279.3 1314.8,278.9 1315.2,279.0 1316.1,278.6 1316.5,279.0 1316.9,278.8 1317.4,279.0 1317.8,278.1 1318.2,279.0 1318.7,278.8 1319.5,279.0 1320.0,278.8 1320.4,279.3 1320.8,279.4 1322.6,279.0 1323.0,278.6 1323.9,279.4 1324.7,278.9 1325.6,279.4 1326.0,279.0 1326.5,279.6 1326.9,278.8 1327.3,279.3 1328.2,279.1 1329.1,279.2 1329.5,278.3 1329.9,279.2 1330.4,279.4 1330.8,279.2 1331.2,279.4 1331.7,278.6 1332.5,279.2 1333.0,279.0 1333.4,279.5 1334.2,278.9 1334.7,279.3 1335.1,279.3 1335.5,278.9 1336.0,279.3 1336.8,279.2 1337.3,278.6 1337.7,279.5 1338.6,279.1 1339.4,279.2 1340.3,278.9 1340.7,279.1 1342.0,278.7 1342.9,279.4 1343.3,279.1 1344.6,278.9 1345.1,278.5 1345.5,279.6 1345.9,278.8 1346.4,278.5 1346.8,279.2 1347.2,279.1 1348.1,278.5 1348.5,278.6 1349.0,279.6 1349.4,279.0 1349.8,278.8 1350.3,279.7 1350.7,278.9 1351.1,278.7 1351.6,279.2 1352.0,279.2 1352.4,279.6 1352.9,278.5 1353.3,279.1 1353.7,278.4 1354.2,279.2 1354.6,278.8 1355.5,278.8 1356.3,279.6 1356.8,279.0 1357.6,278.8 1358.1,279.2 1358.5,278.6 1358.9,280.3 1359.4,278.9 1359.8,279.6 1360.6,278.5 1361.1,278.4 1361.5,278.8 1361.9,278.7 1362.4,278.9 1362.8,278.6 1363.2,279.9 1363.7,279.8 1364.1,278.3 1364.5,279.2 1365.0,279.4 1365.4,278.8 1365.8,278.9 1366.3,279.4 1366.7,279.2 1367.1,278.5 1367.6,279.4 1368.0,278.8 1368.4,279.7 1368.9,278.6 1369.3,278.1 1369.7,279.0 1370.2,279.4 1371.5,278.6 1371.9,279.3 1372.3,278.2 1372.8,279.2 1373.2,278.4 1373.6,278.7 1374.1,278.4 1374.5,278.5 1374.9,279.5 1375.4,278.4 1375.8,278.9 1376.2,278.5 1376.7,279.3 1377.1,278.3 1378.4,279.7 1378.8,278.3 1379.7,278.8 1380.1,279.4 1380.6,278.4 1381.0,279.1 1381.4,278.5 1382.3,278.1 1383.2,279.2 1384.0,277.8 1384.9,279.1 1385.8,278.8 1386.2,279.4 1386.6,277.5 1387.1,278.1 1387.5,279.8 1387.9,279.0 1388.8,278.4 1389.2,277.3 1389.6,279.1 1390.1,277.5 1390.5,277.6 1391.4,279.4 1391.8,278.4 1392.2,278.8 1392.7,278.3 1393.1,278.8 1393.5,277.6 1394.0,279.8 1394.4,278.0 1394.8,278.9 1395.3,277.3 1395.7,290.3 1396.1,278.8 1396.6,279.8 1397.0,278.1 1397.4,279.2 1397.9,278.4 1398.3,278.4 1398.7,279.9 1399.2,277.8 1399.6,281.4 1400.0,279.8 1400.5,279.7 1400.9,279.2 1401.8,277.7 1402.6,277.9 1403.1,279.3 1403.5,278.1 1403.9,278.3 1404.4,278.3 1404.8,278.8 1405.2,278.0 1405.7,278.4 1406.1,277.9 1406.5,278.7 1407.0,278.5 1407.4,278.6 1407.8,281.5 1408.3,269.4 1408.7,278.3 1409.1,278.7 1410.0,277.3 1410.4,278.8 1410.9,277.0 1411.3,278.4 1411.7,276.2 1412.2,278.6 1412.6,278.7 1413.0,277.2 1413.5,278.6 1413.9,277.7 1414.3,279.4 1414.8,278.9 1415.2,276.8 1415.6,277.8 1416.0,276.2 1416.5,279.4 1416.9,278.5 1417.3,294.7 1418.2,277.7 1418.6,274.7 1419.1,277.3 1419.9,279.1 1420.4,278.1 1420.8,278.8 1421.2,277.0 1421.7,277.3 1422.1,278.2 1422.5,280.8 1423.0,278.9 1423.4,279.7 1423.8,277.8 1424.3,279.2 1424.7,275.8 1425.1,278.3 1425.6,275.3 1426.0,265.7 1426.4,278.3 1426.9,279.1 1427.3,269.4 1427.7,277.1 1428.2,276.7 1428.6,277.9 1429.0,287.6 1429.5,278.4 1429.9,276.9 1430.8,276.7 1431.2,279.7 1431.6,277.4 1432.1,261.6 1432.5,273.4 1432.9,269.6 1433.4,279.5 1433.8,277.8 1434.2,279.5 1434.7,277.8 1435.1,277.2 1436.0,277.7 1436.4,276.5 1436.8,276.8 1437.3,280.0 1437.7,287.1 1438.1,280.4 1438.6,279.5 1439.0,276.1 1439.4,279.3 1440.3,272.9 1440.7,277.3 1441.2,277.3 1441.6,276.0 1442.0,276.8 1442.9,274.9 1443.8,280.9 1444.2,288.5 1444.6,278.6 1445.5,275.9 1445.9,279.1 1446.3,278.0 1446.8,278.8 1447.2,277.2 1447.6,277.2 1448.1,275.6 1448.5,276.5 1448.9,279.8 1449.4,275.0 1450.2,279.5 1450.7,278.3 1451.1,278.5 1451.5,265.4 1452.0,266.0 1452.4,279.0 1452.8,276.7 1453.3,280.1 1453.7,275.8 1454.1,261.5 1454.6,276.7 1455.0,276.5 1455.4,274.9 1455.9,275.7 1456.3,275.5 1456.7,272.6 1457.2,279.3 1457.6,276.6 1458.0,282.6 1458.5,276.5 1458.9,277.4 1459.3,273.0 1459.8,292.8 1460.2,273.9 1460.6,277.8 1461.1,278.7 1461.5,278.3 1461.9,275.0 1462.4,274.4 1462.8,281.7 1463.2,279.4 1463.7,280.1 1464.1,276.2 1464.5,276.0 1465.0,281.0 1465.4,274.7 1465.8,278.3 1466.7,272.3 1467.1,273.1 1467.6,277.4 1468.0,276.8 1468.4,274.8 1468.9,275.1 1469.3,274.6 1469.7,276.9 1470.2,275.5 1470.6,279.6 1471.0,274.7 1471.5,281.1 1471.9,273.6 1472.3,277.6 1472.7,292.9 1473.2,262.8 1473.6,282.0 1474.0,271.8 1474.5,277.3 1474.9,273.6 1475.3,275.7 1475.8,288.8 1476.6,268.0 1477.1,276.2 1477.5,269.9 1477.9,270.3 1478.4,277.7 1478.8,278.5 1479.7,277.6 1480.5,271.7 1481.0,284.0 1481.4,276.3 1481.8,277.8 1482.3,241.2 1482.7,272.2 1483.1,284.2 1483.6,279.1 1484.0,270.2 1484.4,276.9 1485.3,262.8 1486.2,289.3 1486.6,269.5 1487.0,270.9 1487.5,276.6 1487.9,271.9 1488.8,280.9 1489.2,275.1 1489.6,275.6 1490.1,244.0 1490.5,279.8 1490.9,275.0 1491.8,284.0 1492.2,275.9 1492.7,281.3 1493.1,249.4 1493.5,307.4 1494.4,223.3 1494.8,272.6 1495.3,260.7 1495.7,268.3 1496.1,270.5 1496.6,275.1 1497.0,273.9 1497.4,268.1 1497.9,272.8 1498.3,233.1 1498.7,275.7 1499.1,285.4 1499.6,283.1 1500.0,286.2 1500.4,272.4 1500.9,273.7 1501.3,269.3 1501.7,269.2 1502.2,275.9 1502.6,289.5 1503.0,255.4 1503.5,307.5 1503.9,277.5 1504.3,262.9 1504.8,279.1 1505.2,258.4 1505.6,270.2 1506.1,254.9 1506.5,277.4 1506.9,264.8 1507.4,281.8 1508.7,253.7 1509.1,257.4 1509.5,273.8 1510.0,270.7 1510.4,269.5 1510.8,273.9 1511.3,284.3 1511.7,251.1 1512.1,279.3 1512.6,256.9 1513.0,285.5 1513.9,269.1 1514.3,269.4 1514.7,251.5 1515.2,275.9 1515.6,270.4 1516.0,255.1 1516.9,281.2 1517.3,275.9 1517.8,277.2 1518.2,266.0 1518.6,285.0 1519.1,273.1 1519.9,304.1 1520.4,245.7 1520.8,266.5 1521.2,273.5 1521.7,263.2 1522.1,276.4 1522.5,268.6 1523.0,296.6 1523.4,281.1 1523.8,279.3 1524.3,273.2 1524.7,285.2 1525.1,280.3 1525.6,293.8 1526.0,279.3 1526.4,287.8 1526.8,289.8 1527.3,278.1 1527.7,251.9 1528.1,273.6 1528.6,278.9 1529.0,257.4 1529.4,254.3 1529.9,269.3 1530.3,277.5 1530.7,249.9 1531.2,277.8 1531.6,286.7 1532.0,270.0 1532.5,276.7 1532.9,279.8 1533.3,264.2 1533.8,274.7 1534.2,279.6 1534.6,256.2 1535.1,280.5 1535.5,285.4 1535.9,258.3 1536.4,285.3 1537.2,254.6 1537.7,258.8 1538.1,260.9 1538.5,280.7 1539.0,266.5 1539.4,267.7 1539.8,255.6 1540.3,273.4 1540.7,255.8 1541.1,263.8 1541.6,289.8 1542.0,282.3 1542.4,265.7 1543.3,280.4 1543.7,272.8 1544.2,289.7 1544.6,291.6 1545.5,255.9 1546.3,291.6 1546.8,288.6 1547.2,289.3 1547.6,288.4 1548.1,265.8 1548.9,304.7 1549.4,276.6 1549.8,285.1 1550.2,258.9 1550.7,255.9 1551.1,300.8 1551.5,283.6 1552.0,281.4 1553.3,313.0 1553.7,237.5 1554.5,287.3 1555.0,238.7 1555.4,247.9 1556.3,299.2 1556.7,289.8 1557.1,302.9 1557.6,276.8 1558.0,287.8 1558.4,272.5 1558.9,279.2 1559.3,272.5 1559.7,274.5 1560.2,221.1 1560.6,277.2 1561.0,246.6 1561.9,282.5 1562.3,278.2 1562.8,244.6 1563.2,279.9 1563.6,276.4 1564.5,282.1 1564.9,280.4 1565.4,248.5 1565.8,269.4 1566.2,268.2 1566.7,255.3 1567.1,271.6 1567.5,260.8 1568.0,271.1 1568.4,230.2 1568.8,286.9 1569.3,303.3 1569.7,264.2 1570.1,272.7 1570.6,272.9 1571.0,278.4 1571.4,294.6 1571.9,240.9 1572.3,277.0 1572.7,270.2 1573.2,257.0 1573.6,269.2 1574.0,264.9 1574.5,291.1 1574.9,267.5 1575.3,268.0 1575.8,273.4 1576.2,275.3 1576.6,272.1 1577.1,265.6 1577.5,275.3 1577.9,261.1 1578.4,296.1 1578.8,273.5 1579.2,296.4 1579.7,256.9 1580.5,296.0 1581.0,289.6 1581.8,263.6 1582.2,263.3 1582.7,269.2 1583.1,258.1 1583.5,261.3 1584.0,257.8 1584.4,257.7 1584.8,275.1 1585.3,261.4 1586.1,281.4 1586.6,258.5 1587.0,258.9 1587.4,272.0 1587.9,271.1 1588.3,285.0 1588.7,255.2 1589.6,291.4 1590.0,272.9 1590.5,296.5 1590.9,302.3 1591.3,302.0 1592.6,271.5 1593.1,267.8 1593.5,268.6 1593.9,259.0 1594.4,269.4 1594.8,326.9 1595.7,266.4 1596.1,279.2 1596.5,278.5 1597.0,238.7 1597.4,281.8 1597.8,254.5 1598.3,255.7 1598.7,283.5 1599.1,295.3 1599.6,256.2 1600.0,259.3 1600.4,258.4 1600.9,264.3 1601.3,266.3 1601.7,260.0 1602.2,206.3 1602.6,296.5 1603.0,268.8 1603.5,260.9 1603.9,284.2 1604.3,266.5 1604.8,286.8 1605.2,282.6 1605.6,285.5 1606.1,266.0 1606.5,280.5 1606.9,249.9 1607.4,252.4 1607.8,272.6 1608.2,267.4 1608.7,290.5 1609.5,246.9 1610.0,272.6 1610.4,267.6 1610.8,274.4 1611.2,255.4 1611.7,260.8 1612.5,282.1 1613.4,271.9 1613.8,251.4 1614.3,268.8 1615.1,285.4 1616.0,268.5 1616.4,270.2 1616.9,270.7 1617.3,251.9 1617.7,272.4 1618.2,283.7 1618.6,282.0 1619.0,245.9 1619.5,256.3 1619.9,251.0 1620.3,287.4 1620.8,279.6 1621.2,282.0 1622.1,245.0 1622.9,267.2 1623.4,251.1 1623.8,258.0 1624.2,296.7 1624.7,253.7 1625.1,279.8 1625.5,246.0 1626.0,275.7 1626.4,283.9 1626.8,278.5 1627.7,297.4 1628.1,252.9 1628.6,295.1 1629.0,279.6 1629.4,278.3 1629.9,290.2 1630.3,276.3 1630.7,289.3 1631.2,288.7 1631.6,274.6 1632.0,280.3 1632.5,261.9 1632.9,277.1 1633.3,275.4 1634.2,266.3 1634.6,286.4 1635.1,262.4 1635.5,304.8 1635.9,291.3 1636.4,283.6 1636.8,264.9 1637.2,285.7 1637.6,275.1 1638.1,274.4 1638.5,257.8 1638.9,281.3 1639.4,276.7 1639.8,254.6 1640.7,269.5 1641.1,254.9 1641.5,265.7 1642.0,292.7 1642.4,264.4 1642.8,305.8 1643.3,254.8 1643.7,288.8 1644.1,288.7 1644.6,289.8 1645.0,281.6 1645.4,251.1 1645.9,286.2 1646.3,288.6 1646.7,274.2 1647.2,240.6 1647.6,288.7 1648.0,260.7 1648.5,269.8 1648.9,291.0 1649.3,292.3 1649.8,279.1 1650.2,253.6 1650.6,297.6 1651.1,289.9 1651.5,271.6" stroke="#ff0000"/>
<path d="M266.5,985.5 395.5,985.4 408.9,985.6 412.4,985.4 413.7,985.5 424.0,985.4 429.7,985.6 435.7,984.4 440.5,983.0 443.5,981.8 446.1,980.7 450.9,978.1 455.6,974.7 458.7,972.1 461.7,969.0 464.3,965.8 466.9,961.9 469.1,958.3 472.1,952.1 478.6,936.7 485.1,919.5 490.3,904.5 498.9,878.0 510.2,842.6 517.5,821.0 524.0,803.6 531.4,785.8 536.1,775.4 539.2,769.3 544.4,759.3 547.8,753.2 553.9,743.1 556.9,738.6 562.5,730.5 569.0,721.9 575.5,714.1 576.0,713.8 576.4,713.0 577.3,712.4 579.4,709.7 584.6,704.2 591.5,697.2 602.8,686.9 603.7,686.3 605.4,684.7 605.8,684.5 606.7,683.6 609.7,681.2 611.0,680.0 612.8,678.9 620.5,672.9 623.1,671.2 624.0,670.4 624.4,670.3 626.2,668.9 627.5,668.2 629.6,666.5 632.7,664.8 637.4,661.6 640.5,659.9 641.7,658.9 642.6,658.6 646.1,656.5 649.1,655.0 650.8,653.8 651.3,653.8 651.7,653.3 653.0,652.9 656.5,651.1 656.9,650.6 657.3,650.6 658.2,649.9 658.6,649.9 659.9,649.1 660.4,649.1 661.2,648.4 662.1,648.2 662.5,647.8 663.4,647.6 665.1,646.7 666.0,646.0 667.3,645.7 668.6,644.9 672.5,643.3 672.9,642.8 673.3,643.0 674.6,642.1 678.5,640.5 680.7,639.4 681.1,639.5 682.4,638.7 683.3,638.6 684.6,637.8 685.0,637.8 685.9,637.2 686.3,637.2 689.8,635.6 690.2,635.7 691.1,635.1 693.3,634.4 693.7,634.0 695.4,633.5 695.8,633.1 696.3,633.4 696.7,632.8 698.0,632.5 698.9,631.8 699.7,631.8 701.0,631.0 701.5,631.2 703.6,630.1 705.4,629.7 707.5,628.7 708.0,628.7 709.7,627.9 711.4,627.4 712.3,626.8 713.6,626.6 714.5,626.2 715.3,626.1 719.7,624.3 721.0,624.1 722.3,623.4 722.7,623.4 723.5,622.9 724.0,623.0 724.8,622.7 726.6,621.9 727.9,621.7 728.7,621.1 730.0,621.0 730.9,620.4 732.2,620.1 732.6,619.8 733.1,619.8 733.9,619.5 734.8,619.4 737.4,618.4 737.8,618.4 738.7,618.0 742.2,617.0 742.6,616.6 743.5,616.6 744.3,616.0 746.1,615.7 747.4,615.2 748.2,615.2 748.7,614.8 749.1,614.9 750.8,614.1 752.5,613.8 754.3,613.1 755.1,613.0 756.0,612.5 759.5,611.8 760.3,611.1 760.8,611.3 761.2,611.3 763.4,610.3 764.2,610.3 764.7,610.0 765.1,610.2 765.5,609.7 766.4,609.7 767.7,609.1 768.6,609.1 771.2,608.1 773.8,607.7 774.6,607.1 775.1,607.2 776.8,606.6 778.1,606.4 778.5,606.0 780.2,605.8 782.4,604.9 785.4,604.4 786.3,604.0 786.7,604.1 787.6,603.6 788.5,603.6 791.9,602.6 792.4,602.2 793.2,602.3 795.0,601.6 796.7,601.3 797.1,601.0 797.6,601.1 798.0,600.7 799.3,600.7 800.2,600.1 800.6,600.3 801.9,599.8 803.2,599.6 803.6,599.3 804.1,599.6 804.9,599.1 805.8,598.9 806.2,599.0 807.1,598.5 811.0,597.6 811.4,597.2 812.3,597.3 815.3,596.2 815.7,596.5 816.2,596.1 817.0,596.2 819.2,595.4 821.8,595.0 822.2,594.9 822.7,594.4 823.1,594.6 824.0,594.1 824.4,594.3 824.8,594.0 825.7,594.0 826.6,593.6 827.4,593.6 828.3,593.1 829.6,593.2 832.6,592.1 833.5,592.1 833.9,591.8 834.4,591.9 835.2,591.7 835.6,591.4 836.5,591.5 837.4,591.0 838.2,591.0 839.1,590.7 839.5,590.9 840.0,590.5 840.8,590.2 841.7,590.2 842.6,589.7 843.9,589.7 844.3,589.4 844.7,589.5 845.2,589.2 847.8,588.7 848.2,588.4 849.5,588.4 851.2,587.8 853.4,587.4 853.8,587.0 854.3,587.3 855.6,586.8 856.9,586.7 857.3,586.4 857.7,586.5 858.6,586.1 859.0,586.2 862.0,585.4 864.2,585.2 865.1,584.7 865.5,584.8 865.9,584.5 866.8,584.6 867.7,584.2 868.1,584.5 868.5,584.1 870.7,583.6 871.1,583.2 871.6,583.6 872.0,583.2 872.9,583.2 873.7,582.8 874.2,582.9 875.5,582.4 877.6,582.3 878.5,581.9 879.4,582.0 879.8,581.7 883.3,580.9 884.1,580.9 885.4,580.4 886.3,580.4 886.7,580.1 887.2,580.3 888.0,580.2 888.5,579.8 888.9,579.7 889.3,579.8 889.8,579.4 890.2,579.5 891.5,579.1 892.3,579.2 893.6,578.8 894.1,579.0 894.9,578.7 895.4,578.3 895.8,578.5 896.2,578.2 896.7,578.3 897.5,577.9 898.4,578.1 900.6,577.4 901.4,577.5 902.7,576.9 903.2,577.1 904.0,576.6 905.3,576.5 905.8,576.7 906.6,576.2 907.5,576.4 907.9,576.0 909.2,576.0 910.1,575.6 911.4,575.5 911.8,575.3 912.3,575.5 912.7,575.2 913.6,574.9 915.3,574.8 916.2,574.4 916.6,574.6 917.4,574.2 917.9,574.4 918.3,574.2 918.7,573.7 919.6,574.0 920.5,573.7 920.9,573.9 921.3,573.5 923.5,573.3 923.9,573.1 924.4,573.2 924.8,572.8 925.7,573.0 927.0,572.5 931.3,571.9 932.2,571.4 932.6,571.8 934.8,571.0 935.2,571.1 935.6,570.8 936.1,571.1 936.5,570.8 937.4,571.0 937.8,570.9 938.2,570.5 938.7,570.6 939.1,570.3 940.4,570.4 940.8,570.0 941.3,570.1 942.1,569.7 943.0,569.9 943.4,569.6 944.3,569.6 944.7,569.3 945.1,569.5 946.0,569.4 946.9,569.0 948.2,568.7 949.5,568.8 949.9,568.5 950.3,568.6 950.8,568.2 951.2,568.3 952.1,568.0 952.5,568.1 954.2,567.7 955.5,567.6 956.0,567.4 957.3,567.5 959.0,566.8 959.9,567.1 960.3,567.1 960.7,566.4 961.2,566.6 962.0,566.4 962.5,566.5 963.8,566.3 964.2,566.0 965.1,565.9 965.5,566.1 965.9,565.7 966.8,565.9 967.2,565.7 967.7,565.8 968.1,565.5 969.4,565.7 970.7,565.2 971.6,565.2 972.9,564.9 973.7,565.0 974.1,564.5 974.6,564.8 975.0,564.5 976.3,564.4 976.7,564.0 978.9,564.0 980.2,563.4 980.6,563.7 981.9,563.6 983.2,562.9 983.7,563.2 984.5,562.9 985.0,563.0 985.4,562.7 985.8,562.7 986.3,563.0 986.7,562.8 988.4,562.5 988.9,562.7 989.3,562.3 989.7,562.3 990.6,562.1 991.0,561.7 991.5,561.7 991.9,562.1 992.3,562.1 992.8,561.7 993.6,561.8 994.1,561.5 994.5,561.8 994.9,561.3 995.4,561.3 995.8,560.9 996.2,561.5 996.7,561.2 997.1,561.4 997.5,560.9 999.7,561.1 1000.5,560.6 1001.4,560.7 1003.1,560.1 1004.0,560.4 1004.4,559.9 1005.3,560.1 1005.7,559.7 1006.2,559.8 1006.6,559.5 1007.0,559.6 1007.5,559.5 1009.2,559.4 1009.6,559.0 1010.1,559.5 1010.9,559.0 1011.8,559.1 1012.2,558.8 1013.5,558.9 1014.0,558.6 1014.4,558.8 1015.3,558.6 1015.7,558.7 1016.6,558.2 1017.0,558.4 1018.3,558.2 1018.7,558.5 1019.2,558.1 1020.0,557.9 1020.5,558.1 1021.8,557.5 1022.6,557.7 1023.1,557.3 1024.4,557.5 1024.8,557.1 1025.7,557.3 1026.1,557.0 1027.4,556.7 1028.2,556.9 1028.7,556.5 1029.5,556.8 1030.0,556.6 1030.4,556.7 1030.8,556.4 1031.3,556.6 1031.7,556.2 1032.1,556.6 1032.6,556.2 1033.4,556.0 1036.0,555.9 1036.5,555.7 1036.9,555.9 1037.3,555.5 1038.2,555.3 1038.6,555.6 1039.1,555.2 1039.5,555.1 1039.9,555.5 1040.4,555.5 1040.8,555.4 1041.2,554.9 1042.1,555.1 1043.0,554.7 1043.4,554.8 1043.8,554.5 1044.3,554.5 1044.7,555.0 1045.6,554.3 1046.0,554.3 1046.4,554.5 1046.9,554.3 1047.3,554.5 1047.7,554.2 1048.6,554.2 1049.5,553.8 1052.1,553.8 1052.5,553.6 1052.9,553.9 1053.4,553.9 1053.8,553.6 1054.7,553.6 1056.8,553.0 1057.7,553.3 1058.1,552.8 1059.0,552.9 1060.3,552.7 1060.7,552.4 1061.1,552.6 1061.6,552.5 1062.0,552.9 1062.9,552.4 1063.7,552.6 1064.2,552.5 1065.5,551.9 1065.9,552.0 1066.8,551.9 1067.2,552.2 1067.6,551.6 1068.1,551.8 1069.4,551.9 1069.8,551.4 1070.7,551.5 1072.0,551.2 1072.4,551.5 1072.8,551.1 1074.1,551.4 1075.0,550.9 1076.3,550.7 1077.2,551.0 1078.0,550.5 1078.9,550.4 1079.3,550.7 1079.8,550.1 1080.2,550.4 1080.6,550.1 1081.5,550.0 1081.9,550.4 1082.4,550.1 1082.8,550.5 1083.2,549.9 1084.5,550.0 1085.4,549.5 1085.8,550.0 1087.1,549.5 1087.5,549.7 1088.0,549.4 1088.8,549.4 1089.3,549.6 1089.7,549.2 1090.6,549.4 1091.9,549.0 1092.3,549.2 1092.7,548.9 1093.6,549.2 1094.5,548.6 1094.9,548.5 1095.3,548.7 1096.2,548.3 1097.1,548.3 1097.5,548.6 1097.9,548.1 1098.4,548.6 1098.8,548.2 1100.5,548.2 1101.4,547.6 1101.8,547.9 1102.3,547.6 1103.1,548.0 1104.4,547.5 1105.3,547.6 1105.7,547.3 1106.2,547.5 1106.6,547.3 1107.0,547.4 1107.5,547.3 1107.9,547.5 1109.2,547.1 1110.1,547.3 1111.3,547.0 1111.8,547.2 1112.2,546.6 1112.6,546.9 1113.1,546.6 1113.5,546.9 1113.9,546.6 1114.8,546.4 1116.1,546.7 1116.5,546.2 1117.0,546.3 1117.4,547.0 1117.8,546.4 1118.3,546.2 1118.7,546.2 1119.1,545.7 1119.6,546.3 1120.4,545.7 1120.9,546.1 1121.7,545.7 1122.2,545.9 1124.3,545.3 1124.8,545.7 1125.2,545.7 1127.4,545.1 1127.8,545.5 1128.2,545.1 1128.7,545.2 1129.5,544.8 1130.0,545.3 1130.4,544.9 1130.8,544.8 1132.1,544.8 1132.6,544.6 1133.0,544.8 1133.9,544.4 1134.3,544.7 1135.2,544.3 1136.5,544.7 1136.9,544.1 1137.3,544.4 1138.6,544.1 1139.5,544.1 1140.3,543.6 1140.8,543.9 1142.1,543.9 1142.5,543.7 1142.9,543.9 1143.4,543.6 1144.2,543.7 1146.0,543.2 1147.3,543.4 1147.7,543.1 1149.0,543.5 1149.4,543.0 1149.9,543.2 1152.0,542.9 1152.9,542.6 1155.5,542.7 1155.9,542.2 1156.8,542.4 1157.7,542.0 1158.1,542.4 1159.0,541.9 1159.4,542.4 1159.8,541.8 1160.3,542.0 1160.7,541.8 1161.6,541.9 1162.0,541.7 1162.9,541.7 1163.3,541.5 1163.7,541.8 1165.0,541.4 1166.3,541.3 1166.8,541.6 1167.2,540.8 1167.6,540.9 1168.0,541.2 1168.5,540.8 1168.9,541.1 1169.3,541.0 1170.6,541.2 1172.4,541.0 1173.7,540.5 1174.1,540.4 1174.5,540.7 1175.0,540.1 1175.4,540.5 1175.8,540.3 1176.3,540.6 1177.1,540.2 1177.6,540.3 1178.0,539.9 1178.4,540.3 1178.9,540.3 1179.3,539.8 1179.7,540.3 1180.6,540.0 1181.0,539.7 1181.5,540.0 1182.8,539.6 1183.6,540.0 1184.1,539.8 1184.5,539.8 1184.9,539.5 1186.2,539.5 1186.7,540.0 1187.5,539.3 1188.0,539.5 1188.4,539.1 1189.3,539.3 1189.7,539.1 1190.6,538.9 1191.0,539.1 1191.4,538.9 1191.9,539.3 1193.2,538.6 1193.6,539.2 1195.7,538.5 1196.2,538.9 1197.0,538.2 1197.5,538.3 1197.9,537.9 1198.3,538.5 1199.6,538.6 1200.1,538.1 1200.9,538.3 1201.8,538.0 1202.2,538.2 1203.1,538.2 1203.5,537.9 1205.3,537.6 1207.0,537.8 1207.9,537.6 1208.3,537.2 1209.2,537.6 1209.6,537.1 1211.3,537.1 1211.8,537.0 1212.2,537.2 1212.6,536.8 1213.1,537.0 1213.9,536.8 1214.4,537.1 1215.7,536.7 1216.5,536.8 1217.4,536.3 1217.8,536.7 1220.0,536.4 1220.4,536.2 1221.3,536.3 1222.2,536.0 1222.6,536.5 1223.9,535.9 1224.3,535.5 1225.6,536.1 1226.0,535.5 1226.9,536.1 1227.8,535.8 1228.2,535.9 1228.6,535.6 1229.9,535.7 1230.4,535.3 1230.8,535.7 1231.2,535.1 1231.7,535.2 1232.1,535.9 1232.5,535.2 1233.0,535.4 1233.4,535.0 1234.7,535.0 1235.6,535.3 1236.0,535.1 1236.4,535.2 1236.9,534.8 1237.3,535.1 1237.7,534.9 1238.2,535.0 1238.6,534.7 1239.0,534.7 1239.5,534.9 1240.8,534.4 1242.1,534.6 1242.5,534.3 1243.4,534.4 1243.8,534.1 1244.2,534.4 1245.1,534.2 1245.5,533.7 1246.8,533.9 1247.3,533.8 1247.7,534.0 1248.6,533.8 1249.0,533.5 1249.4,534.1 1249.8,533.7 1250.3,533.8 1250.7,533.6 1252.4,533.7 1252.9,533.5 1253.3,533.9 1253.7,533.1 1254.6,533.5 1255.9,532.9 1256.3,533.4 1256.8,532.8 1257.2,533.2 1257.6,533.1 1258.5,533.3 1258.9,532.9 1259.8,532.9 1260.2,532.6 1260.7,533.0 1262.0,532.5 1262.4,532.7 1263.3,532.6 1263.7,532.4 1264.1,532.8 1265.0,532.0 1265.4,532.6 1266.3,532.2 1266.7,532.8 1267.6,532.0 1268.5,532.3 1268.9,532.1 1269.3,532.4 1269.8,532.3 1270.2,531.9 1271.1,532.1 1271.9,531.8 1272.4,532.1 1273.2,531.5 1274.5,531.7 1275.0,531.5 1275.4,531.9 1275.8,531.4 1276.3,531.4 1276.7,531.6 1277.1,531.1 1278.0,531.6 1278.4,531.1 1278.8,531.2 1279.3,531.5 1281.0,531.1 1281.4,531.2 1281.9,531.1 1282.3,531.6 1283.2,530.9 1284.0,531.0 1284.5,530.6 1284.9,530.7 1285.3,531.1 1285.8,530.5 1287.1,531.0 1287.5,530.5 1287.9,530.9 1288.4,530.5 1288.8,530.9 1289.7,530.5 1290.1,530.6 1291.0,530.3 1291.4,530.8 1291.8,530.3 1292.3,530.5 1293.1,529.9 1294.9,530.5 1296.2,529.8 1297.0,530.0 1297.5,529.5 1297.9,530.1 1298.3,530.1 1298.8,530.3 1299.2,529.6 1299.6,529.7 1300.1,529.7 1300.5,529.4 1301.4,529.4 1301.8,529.7 1302.7,529.8 1303.5,529.2 1304.0,529.5 1305.2,529.6 1305.7,529.2 1306.1,529.4 1306.5,529.0 1307.4,529.3 1308.3,529.1 1308.7,528.8 1309.6,529.0 1310.0,528.7 1310.4,528.7 1310.9,529.4 1311.7,528.7 1312.2,528.6 1312.6,529.1 1313.0,528.1 1313.5,528.6 1313.9,528.8 1314.3,528.5 1314.8,528.7 1315.2,528.3 1315.6,528.5 1317.4,528.4 1317.8,528.6 1318.2,528.3 1319.5,528.2 1320.4,527.7 1321.3,528.2 1321.7,527.9 1322.1,528.0 1322.6,528.7 1323.4,527.9 1323.9,527.8 1324.3,528.2 1324.7,527.7 1325.2,528.1 1325.6,527.9 1326.0,528.1 1326.5,527.6 1326.9,527.9 1327.3,527.3 1328.2,527.9 1328.6,527.8 1329.1,527.1 1329.5,527.7 1330.8,527.3 1331.7,527.2 1332.1,527.6 1332.5,527.4 1333.0,527.5 1333.4,527.4 1333.8,526.9 1334.7,527.7 1335.1,526.9 1335.5,527.2 1336.4,526.8 1337.3,527.2 1338.6,527.1 1339.0,526.5 1339.4,527.0 1341.2,526.5 1341.6,527.0 1342.5,526.3 1342.9,526.6 1343.3,526.4 1343.8,526.5 1344.2,526.9 1344.6,526.5 1345.1,526.5 1345.5,527.0 1345.9,526.0 1346.4,526.5 1347.7,526.9 1348.1,526.1 1348.5,526.4 1350.3,525.7 1350.7,526.2 1351.1,526.3 1351.6,525.8 1352.0,526.2 1353.3,525.2 1353.7,526.2 1355.5,525.4 1355.9,525.9 1356.3,525.7 1356.8,525.8 1357.2,525.7 1357.6,525.3 1358.1,525.2 1358.5,525.7 1358.9,525.1 1359.4,525.6 1359.8,525.8 1360.2,525.1 1360.6,525.6 1361.1,525.4 1361.5,525.6 1361.9,525.2 1362.8,525.5 1363.2,525.8 1364.1,525.4 1364.5,524.9 1365.0,525.3 1365.4,525.0 1366.7,525.4 1368.0,525.0 1368.4,525.4 1368.9,524.7 1369.7,525.3 1370.2,524.8 1371.5,525.4 1371.9,525.1 1372.3,524.3 1372.8,524.7 1373.6,524.9 1374.1,524.8 1374.5,525.2 1374.9,524.9 1375.4,524.2 1375.8,524.4 1376.2,523.9 1376.7,525.0 1377.1,524.4 1377.5,524.4 1378.0,523.9 1378.8,524.5 1379.3,524.2 1380.1,524.1 1380.6,524.9 1381.0,524.0 1381.4,523.7 1381.9,524.0 1382.7,524.1 1383.6,523.7 1384.5,524.1 1384.9,523.4 1385.3,524.7 1385.8,524.6 1386.2,523.2 1387.1,524.3 1387.9,524.6 1388.3,523.0 1389.6,523.9 1390.1,523.2 1390.5,523.8 1391.4,523.9 1391.8,522.9 1392.7,524.3 1393.1,523.3 1393.5,528.0 1394.4,519.8 1394.8,523.1 1395.3,524.3 1395.7,524.3 1396.1,522.9 1396.6,523.5 1397.0,523.5 1397.4,522.7 1397.9,523.7 1398.3,515.1 1398.7,522.7 1399.6,523.7 1400.5,522.7 1400.9,524.2 1401.3,522.4 1401.8,523.3 1402.2,526.4 1402.6,523.6 1403.1,514.1 1403.5,522.7 1404.4,529.4 1404.8,523.4 1405.2,521.4 1405.7,523.0 1406.1,523.1 1406.5,523.8 1407.0,520.4 1407.4,511.8 1407.8,524.9 1408.3,522.2 1408.7,523.5 1409.1,521.1 1409.6,522.2 1410.0,515.0 1410.4,523.8 1410.9,523.6 1411.3,522.6 1411.7,522.4 1412.2,523.0 1412.6,525.2 1413.0,521.8 1413.5,521.6 1414.3,515.2 1414.8,520.8 1415.2,522.9 1415.6,523.1 1416.0,527.3 1416.5,521.6 1416.9,522.9 1417.3,525.2 1417.8,521.9 1418.2,521.8 1418.6,523.0 1419.1,521.5 1419.5,522.2 1420.4,521.0 1420.8,523.5 1421.2,514.5 1421.7,520.5 1422.1,521.6 1422.5,521.9 1423.0,522.6 1423.8,525.0 1424.3,519.9 1424.7,521.6 1425.1,502.4 1425.6,522.3 1426.0,522.8 1426.4,520.7 1426.9,520.2 1427.3,520.0 1427.7,524.6 1428.2,523.0 1428.6,525.4 1429.0,519.6 1429.5,524.8 1430.3,519.0 1430.8,522.8 1431.2,523.1 1432.1,521.1 1432.5,539.6 1432.9,520.9 1433.4,522.9 1433.8,530.4 1434.2,519.5 1434.7,517.4 1435.1,502.4 1435.5,520.5 1436.0,522.2 1436.4,517.3 1436.8,519.7 1437.3,533.9 1437.7,517.1 1438.1,522.4 1438.6,522.1 1439.0,534.0 1439.4,517.6 1439.9,522.0 1440.3,517.7 1440.7,524.5 1441.2,518.9 1441.6,522.1 1442.0,519.0 1442.5,522.2 1442.9,517.0 1443.3,521.8 1443.8,522.7 1444.2,521.0 1444.6,525.4 1445.0,522.0 1445.5,523.2 1445.9,522.4 1446.3,505.5 1446.8,525.6 1447.2,520.1 1447.6,520.9 1448.1,522.7 1448.5,520.8 1448.9,523.4 1449.4,520.1 1449.8,519.2 1450.7,522.2 1451.1,522.2 1451.5,525.2 1452.0,518.9 1452.4,519.6 1452.8,521.6 1453.3,519.9 1453.7,515.9 1454.6,525.4 1455.0,524.3 1455.4,524.9 1456.3,513.3 1456.7,524.3 1457.6,520.8 1458.9,508.6 1459.3,526.0 1459.8,522.3 1460.2,524.0 1460.6,532.8 1461.1,521.4 1461.5,520.2 1461.9,522.4 1462.4,522.6 1462.8,525.9 1463.2,523.4 1464.1,512.3 1464.5,521.8 1465.0,518.0 1465.4,526.3 1465.8,515.3 1466.3,521.5 1466.7,517.6 1467.1,517.0 1467.6,527.6 1468.0,521.3 1468.4,519.9 1468.9,523.8 1469.3,517.3 1469.7,519.0 1470.2,517.8 1470.6,526.3 1471.5,517.0 1471.9,523.0 1472.3,519.7 1472.7,519.9 1473.2,504.1 1474.0,538.3 1474.5,518.6 1475.3,512.2 1475.8,522.5 1476.2,514.0 1476.6,515.1 1477.5,526.9 1477.9,514.8 1478.4,515.6 1478.8,514.6 1479.2,530.3 1479.7,523.0 1480.1,522.5 1480.5,530.7 1481.4,509.9 1481.8,517.9 1482.3,514.4 1482.7,530.8 1483.1,513.2 1483.6,531.8 1484.0,517.8 1484.4,518.1 1484.9,520.5 1485.3,519.7 1485.7,528.8 1486.2,513.7 1486.6,516.1 1487.0,507.1 1487.9,521.1 1488.3,519.5 1488.8,527.2 1489.2,519.0 1489.6,531.6 1490.1,516.1 1490.9,512.3 1492.2,526.3 1492.7,511.2 1493.5,526.4 1494.4,517.0 1494.8,498.2 1495.3,517.9 1495.7,492.2 1496.1,514.7 1496.6,513.2 1497.0,532.3 1497.4,525.5 1497.9,510.3 1498.3,517.4 1498.7,512.9 1499.1,510.9 1500.0,526.8 1500.4,523.6 1500.9,524.5 1501.3,518.4 1501.7,500.8 1502.2,527.0 1502.6,529.9 1503.0,527.0 1503.5,527.0 1503.9,528.5 1504.3,540.4 1504.8,522.9 1505.2,532.2 1505.6,526.6 1506.1,525.7 1506.5,519.5 1506.9,517.9 1507.4,511.8 1507.8,525.1 1508.7,511.1 1509.1,514.5 1509.5,511.1 1510.0,533.5 1510.4,518.6 1510.8,521.5 1511.3,510.7 1511.7,512.1 1512.1,529.3 1512.6,521.5 1513.0,522.5 1513.4,536.1 1513.9,538.4 1514.3,526.6 1514.7,524.9 1515.2,518.6 1515.6,518.3 1516.0,538.4 1516.5,510.1 1516.9,520.0 1517.3,503.8 1517.8,509.5 1518.2,536.8 1518.6,525.0 1519.1,523.9 1519.9,514.4 1520.8,517.4 1521.2,531.1 1521.7,534.6 1522.5,515.9 1523.0,512.1 1523.4,523.9 1523.8,518.8 1524.3,503.5 1524.7,534.6 1525.1,521.0 1525.6,518.0 1526.0,512.6 1526.4,512.5 1526.8,530.0 1527.3,511.7 1527.7,522.1 1528.1,527.6 1528.6,539.8 1529.0,527.3 1529.9,516.7 1530.3,530.1 1530.7,531.7 1531.2,516.9 1531.6,527.4 1532.0,519.9 1532.9,485.9 1533.3,530.0 1533.8,536.8 1534.6,519.3 1535.1,513.7 1535.5,527.3 1535.9,525.1 1536.4,503.9 1536.8,528.7 1537.2,513.9 1537.7,528.9 1538.1,527.5 1538.5,529.6 1539.0,533.4 1539.4,529.4 1539.8,546.8 1540.3,504.3 1540.7,533.1 1541.1,547.9 1541.6,504.7 1542.0,500.0 1542.4,531.6 1542.9,546.2 1543.7,519.4 1544.2,524.9 1544.6,492.3 1545.5,533.1 1545.9,531.5 1546.3,498.9 1546.8,535.1 1547.2,528.0 1547.6,532.4 1548.1,520.0 1548.5,522.3 1548.9,510.5 1549.4,525.8 1549.8,532.1 1550.2,512.1 1550.7,526.4 1551.1,499.4 1551.5,531.4 1552.0,533.2 1552.4,496.8 1552.8,543.2 1553.3,533.7 1553.7,516.5 1554.1,520.3 1554.5,521.0 1555.0,510.2 1555.8,539.8 1556.3,528.0 1556.7,539.5 1557.1,533.7 1557.6,536.0 1558.0,524.3 1558.4,531.5 1558.9,545.0 1559.3,539.1 1560.2,515.5 1560.6,527.5 1561.0,525.8 1561.5,528.0 1561.9,503.2 1562.3,529.0 1562.8,527.1 1563.2,526.7 1563.6,517.4 1564.1,548.6 1564.9,508.5 1565.4,515.7 1565.8,532.3 1566.7,525.0 1568.0,518.8 1568.4,512.5 1568.8,530.0 1569.3,493.4 1570.1,537.2 1570.6,500.3 1571.0,510.7 1571.4,544.4 1572.3,522.2 1572.7,517.5 1573.2,521.3 1573.6,520.1 1574.0,521.3 1574.5,481.1 1574.9,529.8 1575.8,504.3 1576.2,509.9 1576.6,543.4 1577.1,513.0 1577.5,497.1 1577.9,540.4 1578.8,519.0 1579.2,518.5 1579.7,541.0 1580.1,539.1 1580.5,517.4 1581.0,528.7 1581.4,517.5 1581.8,527.8 1582.2,512.0 1582.7,534.5 1583.1,525.3 1583.5,523.7 1584.0,532.3 1584.4,531.0 1584.8,539.5 1585.3,525.6 1585.7,541.4 1586.1,521.0 1586.6,541.1 1587.0,524.1 1587.4,526.4 1587.9,547.7 1588.3,505.7 1588.7,513.4 1589.2,544.9 1589.6,508.7 1590.9,541.0 1591.3,519.8 1591.8,526.7 1592.2,513.2 1592.6,521.3 1593.1,536.5 1593.5,529.0 1593.9,525.2 1594.4,530.2 1594.8,527.1 1595.2,527.5 1596.1,515.4 1596.5,533.1 1597.0,513.7 1597.4,561.6 1597.8,548.7 1598.3,542.2 1598.7,547.9 1599.1,515.2 1599.6,521.0 1600.0,517.6 1600.4,518.6 1600.9,508.4 1601.3,513.8 1601.7,535.6 1602.2,534.0 1602.6,539.4 1603.0,538.6 1603.5,535.1 1603.9,518.5 1605.2,540.2 1605.6,523.3 1606.1,522.2 1606.5,522.8 1606.9,544.0 1607.8,524.3 1608.2,519.7 1608.7,532.2 1609.1,510.4 1609.5,525.4 1610.0,515.6 1610.8,530.0 1611.2,532.3 1611.7,559.2 1612.1,529.2 1612.5,535.3 1613.0,520.0 1613.4,511.4 1613.8,540.0 1614.3,548.4 1614.7,518.4 1615.6,539.9 1616.0,529.6 1616.4,504.5 1616.9,531.1 1617.3,527.4 1617.7,536.2 1618.2,519.2 1618.6,537.9 1619.0,539.5 1619.5,521.9 1619.9,534.1 1620.3,522.8 1620.8,524.2 1621.2,520.2 1621.6,525.0 1622.1,522.6 1622.5,541.1 1623.4,518.3 1623.8,543.1 1624.2,535.0 1624.7,539.4 1625.1,529.1 1625.5,536.6 1626.4,520.5 1626.8,531.0 1627.3,519.1 1627.7,531.4 1628.1,528.4 1628.6,513.2 1629.0,533.1 1629.4,522.4 1630.3,534.7 1630.7,531.0 1631.2,523.9 1631.6,537.9 1632.0,530.0 1632.5,539.7 1632.9,542.7 1633.3,527.3 1633.8,520.2 1634.6,538.8 1635.1,534.1 1635.5,519.8 1635.9,514.8 1636.4,522.1 1636.8,522.1 1637.2,537.2 1637.6,531.9 1638.1,539.7 1638.5,530.6 1638.9,547.3 1639.4,531.6 1639.8,536.8 1640.2,534.0 1640.7,535.9 1641.1,542.0 1641.5,539.1 1642.0,543.8 1642.4,526.2 1643.3,549.1 1643.7,534.4 1644.1,530.5 1644.6,529.9 1645.0,527.2 1645.4,533.5 1645.9,545.1 1646.3,536.5 1647.2,525.0 1647.6,521.8 1648.0,554.4 1648.5,528.1 1648.9,533.4 1649.3,528.0 1649.8,534.0 1650.2,528.6 1650.6,533.5 1651.1,545.8 1651.5,525.8" stroke="#00ff00"/>
<path d="M266.5,985.5 566.9,985.5 569.9,985.4 619.2,985.5 630.5,985.3 632.2,985.5 653.4,985.3 657.3,985.4 659.1,985.3 670.3,985.4 670.7,985.3 682.0,985.4 684.2,985.2 686.3,985.4 695.0,985.3 695.4,985.2 704.1,985.4 709.7,985.2 711.0,985.4 711.4,985.2 714.5,985.2 721.4,985.3 723.1,985.2 737.0,985.3 740.4,985.1 741.3,985.3 743.5,985.0 745.2,985.3 756.9,985.1 759.0,985.3 762.9,985.1 763.4,985.2 767.7,985.1 775.9,985.2 776.8,985.1 786.7,985.2 788.0,985.0 789.8,985.2 791.5,985.0 801.9,985.1 804.1,985.0 808.4,985.2 809.2,985.0 817.0,985.1 817.9,984.9 819.2,985.1 819.6,985.0 820.9,985.1 823.1,985.0 824.8,985.1 825.3,984.9 833.9,985.1 834.8,984.9 835.6,985.1 849.5,984.8 854.7,985.0 858.6,984.8 864.2,985.0 866.8,984.8 868.1,985.0 873.3,984.8 875.0,985.0 879.4,984.8 884.1,985.0 885.9,984.8 888.0,985.0 891.5,984.8 892.3,984.9 892.8,984.8 894.1,984.9 895.4,984.8 901.0,984.9 901.4,984.8 901.9,984.9 903.2,984.7 907.9,984.9 912.3,984.8 913.6,984.9 916.6,984.7 919.2,984.9 919.6,984.7 920.0,984.9 920.5,984.7 923.5,984.9 925.2,984.7 925.7,984.9 930.0,984.6 939.5,984.8 945.6,984.6 947.3,984.8 948.6,984.6 949.0,984.8 949.5,984.6 950.3,984.8 951.2,984.6 951.6,984.8 954.2,984.6 954.7,984.8 955.1,984.6 956.0,984.8 958.1,984.7 960.3,984.5 961.2,984.7 966.8,984.6 971.1,984.8 972.4,984.6 976.7,984.7 977.2,984.5 978.9,984.7 979.8,984.5 983.2,984.6 984.5,984.5 987.1,984.7 988.0,984.5 988.9,984.7 991.5,984.5 999.3,984.6 1000.5,984.5 1002.3,984.7 1002.7,984.5 1004.9,984.6 1005.7,984.5 1008.3,984.7 1010.1,984.4 1010.9,984.6 1016.6,984.4 1017.0,984.6 1017.4,984.4 1017.9,984.5 1020.0,984.4 1020.5,984.6 1022.2,984.4 1023.1,984.6 1024.4,984.4 1026.1,984.6 1027.4,984.4 1028.2,984.5 1036.0,984.4 1036.9,984.5 1038.6,984.4 1042.5,984.5 1043.0,984.3 1047.3,984.5 1048.2,984.3 1048.6,984.5 1049.0,984.3 1055.5,984.5 1056.4,984.2 1058.1,984.6 1059.4,984.3 1064.6,984.3 1065.0,984.2 1070.2,984.4 1072.0,984.2 1072.4,984.4 1075.4,984.2 1075.9,984.4 1076.3,984.3 1078.0,984.4 1079.8,984.2 1080.2,984.4 1080.6,984.2 1083.2,984.4 1083.7,984.2 1086.2,984.4 1087.5,984.2 1088.4,984.3 1089.3,984.2 1089.7,984.4 1091.0,984.2 1091.4,984.4 1091.9,984.1 1094.5,984.4 1096.2,984.1 1097.5,984.3 1100.5,984.1 1106.6,984.3 1110.9,984.2 1111.3,984.1 1112.2,984.4 1112.6,984.1 1114.8,984.2 1115.2,984.0 1117.0,984.3 1117.4,984.1 1120.9,984.3 1122.6,984.0 1123.5,984.3 1124.3,984.1 1125.6,984.4 1126.1,984.1 1127.8,984.2 1128.7,984.1 1129.5,984.3 1130.4,984.1 1131.3,984.2 1132.6,984.0 1133.0,984.3 1133.4,984.1 1135.2,984.1 1135.6,984.2 1136.0,984.1 1136.5,984.2 1136.9,984.0 1137.8,984.2 1140.3,984.0 1142.1,984.2 1142.9,984.1 1143.8,984.3 1145.1,984.0 1146.0,984.3 1146.8,984.1 1147.7,984.3 1148.6,984.0 1149.9,984.2 1151.2,983.9 1152.0,984.1 1152.9,984.0 1153.3,984.1 1154.2,984.0 1154.6,984.1 1155.1,984.0 1156.8,984.1 1158.5,983.9 1159.4,984.2 1163.7,983.9 1164.2,984.1 1165.5,984.0 1168.0,984.1 1168.9,983.8 1169.3,984.1 1171.1,984.0 1171.5,984.1 1173.7,983.9 1176.7,984.2 1178.4,983.9 1178.9,984.1 1179.3,984.0 1180.2,984.2 1181.0,983.9 1182.3,984.1 1183.6,983.9 1188.0,984.0 1188.4,983.8 1188.8,984.0 1194.4,984.1 1194.9,983.9 1195.3,984.1 1195.7,983.9 1196.6,984.0 1197.9,983.9 1199.6,984.0 1200.1,983.8 1200.9,984.0 1203.5,984.1 1204.0,983.9 1204.4,984.1 1206.6,983.9 1207.4,984.1 1207.9,983.9 1208.3,984.0 1209.2,983.9 1209.6,984.0 1211.3,983.9 1211.8,984.1 1212.2,983.8 1213.1,983.8 1214.8,984.1 1216.5,983.9 1218.7,984.0 1220.0,983.7 1220.9,983.9 1221.7,983.9 1222.2,984.0 1223.0,983.8 1223.9,984.0 1224.7,983.8 1225.2,984.1 1226.0,983.8 1226.5,984.0 1227.8,983.8 1229.1,984.1 1231.7,983.8 1232.1,984.0 1234.7,983.8 1235.1,983.9 1235.6,983.7 1236.0,984.0 1236.9,983.7 1237.3,983.9 1241.2,983.9 1241.6,983.6 1242.1,983.9 1246.0,983.8 1249.0,983.9 1250.3,983.7 1251.6,983.9 1252.0,983.5 1252.4,984.0 1252.9,983.7 1253.3,983.9 1254.6,983.7 1255.0,983.9 1256.3,983.7 1259.4,983.8 1260.7,983.6 1261.1,983.9 1263.7,983.8 1264.1,983.7 1265.0,983.8 1265.4,983.7 1266.7,984.0 1268.0,983.7 1268.5,983.9 1271.9,983.7 1272.4,983.6 1273.7,983.9 1275.8,983.7 1276.3,983.8 1279.3,983.8 1280.6,983.6 1281.9,983.7 1282.7,984.0 1283.6,983.7 1284.9,983.8 1285.3,983.6 1285.8,983.8 1287.1,983.9 1287.5,983.7 1288.4,983.9 1288.8,983.7 1291.8,983.8 1297.9,983.6 1299.6,983.8 1300.1,983.6 1300.9,983.6 1301.4,983.8 1301.8,983.6 1303.1,983.9 1304.4,983.7 1304.8,983.9 1305.7,983.6 1306.1,983.8 1307.0,983.6 1307.8,983.7 1308.3,983.5 1309.1,983.9 1310.0,983.5 1312.6,983.8 1313.0,983.5 1315.2,983.7 1316.1,983.5 1316.9,983.8 1317.8,983.6 1320.0,983.8 1323.4,983.6 1325.6,983.7 1326.0,983.5 1328.2,983.7 1329.5,983.5 1330.8,983.7 1331.2,983.4 1331.7,983.6 1332.1,983.5 1332.5,983.6 1333.0,983.5 1334.2,983.7 1334.7,983.5 1335.1,983.8 1335.5,983.6 1338.1,983.7 1339.9,983.5 1340.7,983.7 1343.8,983.6 1344.2,983.7 1345.1,983.6 1349.4,983.7 1350.7,983.4 1351.1,983.6 1353.3,983.5 1353.7,983.3 1354.2,983.7 1354.6,983.3 1355.5,983.7 1355.9,983.4 1356.3,983.7 1357.6,983.5 1359.4,983.7 1359.8,983.4 1360.2,983.6 1361.1,983.4 1361.5,983.6 1363.7,983.7 1364.1,983.5 1365.4,983.7 1367.1,983.4 1368.4,983.7 1368.9,983.4 1370.6,983.4 1371.0,983.7 1372.3,983.3 1372.8,983.7 1376.7,983.4 1377.5,983.6 1378.8,983.4 1379.7,983.5 1380.1,983.4 1380.6,983.6 1381.4,983.4 1382.3,983.7 1382.7,983.4 1383.6,983.4 1386.2,983.6 1387.9,983.4 1388.3,983.6 1388.8,983.4 1389.6,983.6 1390.1,983.4 1390.9,983.6 1391.4,983.3 1391.8,983.6 1392.2,983.4 1392.7,983.5 1393.5,983.3 1395.3,983.7 1399.6,983.4 1400.0,983.4 1400.5,983.8 1400.9,983.4 1401.3,983.6 1402.6,983.4 1403.1,983.7 1404.4,983.4 1405.2,983.7 1405.7,983.3 1407.0,983.5 1407.4,983.4 1410.9,983.5 1411.3,983.4 1413.9,983.6 1414.3,983.4 1414.8,983.6 1417.3,983.2 1418.2,983.5 1419.9,983.4 1421.7,983.5 1422.1,983.4 1423.0,983.6 1423.4,983.4 1423.8,983.6 1424.3,983.6 1424.7,983.2 1425.1,983.7 1425.6,983.3 1426.0,983.7 1426.9,983.2 1427.7,983.5 1428.2,983.3 1429.0,983.5 1429.5,983.3 1430.3,983.6 1430.8,983.2 1432.5,983.4 1432.9,982.6 1433.4,983.3 1434.7,983.6 1435.1,983.3 1436.4,983.2 1437.3,982.6 1437.7,983.3 1438.6,983.0 1439.0,983.5 1440.3,983.0 1440.7,983.8 1441.2,983.3 1441.6,983.7 1442.0,982.6 1442.5,982.0 1442.9,983.4 1443.3,983.7 1443.8,982.8 1444.2,983.6 1444.6,983.1 1445.0,983.5 1445.5,983.3 1445.9,983.9 1446.3,983.3 1446.8,983.3 1447.2,981.6 1448.5,984.3 1448.9,983.0 1449.4,983.6 1449.8,981.6 1450.7,983.7 1451.1,983.4 1451.5,983.6 1452.4,983.0 1452.8,983.7 1453.7,983.5 1454.6,982.7 1455.0,983.9 1456.3,983.1 1457.6,983.1 1458.0,984.2 1458.5,983.6 1459.3,983.7 1459.8,984.9 1460.2,983.5 1460.6,983.7 1461.1,985.5 1461.5,985.7 1461.9,982.7 1462.4,983.2 1463.7,984.0 1464.1,983.9 1464.5,982.9 1465.0,983.5 1465.4,983.0 1465.8,984.1 1466.3,983.9 1466.7,982.9 1467.1,983.5 1467.6,984.7 1468.0,982.9 1468.9,983.3 1469.3,984.0 1470.2,983.2 1470.6,985.0 1471.0,985.5 1471.5,983.4 1471.9,983.6 1472.3,983.5 1472.7,984.9 1473.2,983.3 1474.0,983.2 1474.5,982.7 1474.9,983.1 1475.3,984.3 1475.8,983.3 1476.6,983.8 1477.1,983.1 1477.5,983.1 1477.9,983.6 1478.4,982.8 1478.8,983.8 1479.7,983.4 1481.0,983.4 1481.4,981.9 1481.8,983.6 1482.3,982.8 1483.6,983.3 1484.0,982.3 1484.4,982.2 1484.9,983.3 1485.3,983.3 1485.7,981.1 1486.2,982.6 1487.0,983.8 1487.9,980.9 1488.3,984.6 1488.8,982.2 1489.2,982.8 1489.6,982.6 1490.1,983.0 1490.5,985.3 1490.9,980.9 1491.4,983.1 1492.2,982.8 1492.7,983.9 1493.1,983.0 1493.5,984.0 1494.0,984.3 1494.8,982.3 1495.3,982.6 1495.7,983.6 1496.1,984.0 1496.6,982.7 1497.4,983.7 1498.3,983.6 1498.7,984.7 1499.1,983.3 1499.6,984.2 1500.0,980.3 1500.4,983.2 1501.3,982.6 1501.7,983.9 1502.2,984.4 1502.6,982.1 1503.0,982.7 1503.5,982.9 1503.9,985.0 1504.3,983.1 1504.8,983.6 1505.2,982.5 1505.6,984.0 1506.5,980.6 1506.9,982.6 1507.4,983.3 1508.7,983.5 1509.1,984.7 1509.5,982.8 1510.0,984.4 1510.8,983.2 1511.3,983.6 1511.7,983.6 1512.1,982.1 1512.6,984.0 1513.4,983.6 1513.9,982.1 1514.3,984.0 1514.7,984.3 1515.2,983.7 1515.6,983.6 1516.0,982.7 1516.9,984.1 1517.3,982.3 1517.8,983.0 1518.2,982.9 1518.6,984.4 1519.5,981.8 1520.4,984.5 1520.8,983.2 1521.2,983.0 1521.7,983.5 1522.1,984.8 1522.5,990.3 1523.0,983.1 1523.4,983.7 1524.3,981.9 1524.7,985.9 1525.1,983.0 1525.6,983.6 1526.0,983.5 1526.4,983.8 1526.8,981.5 1527.3,983.6 1527.7,982.2 1528.1,983.6 1528.6,982.9 1529.0,989.2 1529.4,982.5 1529.9,981.3 1530.3,983.4 1531.2,982.5 1532.0,984.8 1532.5,983.2 1532.9,982.7 1533.3,984.6 1533.8,984.3 1534.6,981.8 1535.1,984.0 1535.5,982.6 1535.9,982.7 1536.4,980.7 1536.8,986.8 1537.2,985.6 1537.7,983.3 1538.1,984.6 1538.5,981.4 1539.0,983.6 1539.4,981.6 1539.8,984.1 1540.3,984.5 1540.7,981.5 1541.6,983.3 1542.0,981.8 1542.4,982.3 1542.9,982.2 1543.3,983.3 1543.7,982.4 1544.2,987.5 1544.6,982.4 1545.0,983.0 1545.5,983.2 1545.9,982.9 1546.3,984.4 1546.8,982.8 1547.6,983.7 1548.1,982.8 1548.5,984.5 1548.9,983.9 1549.4,984.0 1549.8,982.2 1550.7,983.7 1551.1,981.1 1551.5,982.5 1552.0,982.6 1552.4,981.8 1552.8,981.6 1553.3,984.3 1553.7,983.2 1554.5,984.1 1555.0,983.2 1555.4,983.3 1555.8,982.1 1556.3,982.5 1556.7,983.7 1557.1,986.2 1558.0,982.4 1558.4,982.4 1558.9,984.0 1559.3,983.7 1559.7,983.8 1560.2,983.5 1560.6,984.6 1561.0,983.5 1561.5,984.9 1562.3,983.3 1563.2,983.6 1563.6,984.3 1564.9,981.1 1565.8,985.3 1566.2,982.0 1567.5,984.4 1568.0,982.1 1568.4,983.3 1568.8,983.6 1569.3,981.9 1569.7,983.7 1570.1,982.0 1570.6,983.5 1571.0,984.0 1571.4,983.4 1571.9,981.8 1572.3,984.1 1572.7,984.1 1573.2,983.4 1573.6,984.2 1574.0,982.7 1574.5,982.2 1575.8,984.3 1576.2,982.4 1576.6,983.5 1577.1,983.5 1577.5,982.6 1577.9,979.5 1578.4,981.1 1578.8,984.4 1579.2,981.3 1579.7,981.0 1580.1,981.4 1581.0,984.8 1581.8,982.6 1582.2,982.8 1582.7,983.8 1583.1,983.3 1583.5,980.9 1584.0,984.8 1584.4,984.4 1584.8,981.8 1585.7,983.8 1586.1,983.6 1586.6,982.8 1587.0,983.3 1587.4,985.6 1587.9,982.8 1588.3,984.5 1588.7,990.4 1589.2,981.7 1589.6,984.1 1590.0,983.7 1590.9,985.4 1591.8,983.7 1592.6,984.4 1593.1,982.2 1593.5,981.9 1593.9,984.3 1594.4,981.8 1594.8,982.9 1595.2,985.7 1596.1,985.0 1596.5,983.2 1597.0,984.9 1597.4,982.1 1597.8,982.1 1598.3,983.0 1598.7,982.3 1599.1,985.1 1599.6,983.0 1600.0,987.4 1600.4,984.5 1600.9,991.2 1601.3,984.9 1601.7,981.5 1602.2,982.0 1602.6,980.0 1603.0,983.8 1603.9,982.4 1604.3,986.9 1604.8,982.1 1605.2,982.5 1605.6,981.9 1606.1,981.7 1606.9,982.9 1607.4,982.6 1607.8,981.5 1608.2,981.2 1609.1,983.0 1609.5,981.9 1610.0,982.5 1610.4,982.6 1611.2,980.9 1612.1,985.4 1612.5,983.8 1613.4,982.1 1613.8,982.2 1614.3,984.6 1614.7,981.5 1615.1,983.5 1615.6,979.5 1616.0,983.6 1616.4,982.7 1617.3,985.9 1617.7,982.2 1618.2,985.8 1619.0,981.2 1619.5,984.0 1619.9,984.5 1620.3,983.5 1620.8,984.5 1621.2,984.8 1621.6,981.6 1622.1,983.0 1622.9,983.3 1623.4,980.8 1623.8,983.6 1624.2,983.4 1624.7,985.9 1625.1,982.1 1625.5,982.6 1626.0,983.9 1626.4,983.3 1626.8,984.5 1627.3,984.9 1627.7,982.1 1628.6,984.2 1629.0,982.2 1629.4,986.3 1629.9,983.7 1630.3,978.3 1630.7,981.2 1631.2,982.3 1631.6,980.6 1632.0,984.2 1632.5,982.2 1632.9,983.3 1633.3,983.7 1633.8,983.5 1634.2,982.7 1634.6,984.2 1635.1,981.7 1635.5,980.7 1635.9,981.2 1636.4,984.2 1636.8,985.1 1637.2,982.3 1637.6,982.4 1638.1,983.7 1638.5,981.4 1638.9,982.5 1639.4,981.2 1639.8,983.2 1640.2,979.3 1640.7,981.1 1641.5,980.4 1642.0,983.7 1642.4,983.1 1642.8,985.8 1643.3,983.2 1643.7,981.8 1644.1,982.5 1644.6,984.0 1645.0,983.7 1645.4,985.9 1646.3,981.9 1646.7,981.7 1647.2,984.1 1647.6,979.5 1648.0,983.6 1648.5,984.2 1648.9,982.5 1649.8,984.8 1650.2,985.0 1650.6,984.9 1651.1,984.4 1651.5,982.9" stroke="#0000ff"/>
<path d="M266.5,985.5 425.8,985.4 468.6,985.6 479.9,985.4 484.2,985.0 489.0,984.9 490.3,984.7 490.7,984.9 492.9,984.5 496.8,984.4 500.2,984.0 506.3,983.6 510.6,982.9 511.0,983.0 515.4,982.6 517.5,982.1 518.0,982.2 524.5,981.3 526.2,981.2 528.4,980.8 530.5,980.7 530.9,980.4 532.7,980.4 534.4,979.9 537.0,979.8 542.6,978.9 543.1,979.0 543.9,978.6 544.8,978.7 547.4,978.1 549.1,978.0 551.7,977.5 552.6,977.5 554.3,977.1 555.2,977.1 556.1,976.9 559.1,976.6 564.7,975.6 565.1,975.7 565.6,975.5 566.9,975.4 569.0,975.0 570.3,975.0 572.5,974.5 576.0,974.2 577.3,973.8 579.0,973.8 579.9,973.5 583.3,973.2 584.2,972.9 586.3,972.8 589.8,972.2 592.4,972.0 593.7,971.7 595.4,971.6 595.9,971.3 596.7,971.4 598.9,971.0 599.8,971.0 602.4,970.5 606.3,970.3 608.4,969.8 608.9,969.9 611.9,969.4 614.0,969.4 614.5,969.1 619.7,968.7 620.1,968.5 622.7,968.1 624.0,968.2 624.9,967.9 627.0,967.8 628.3,967.5 631.8,967.3 632.7,967.0 633.1,967.1 638.3,966.4 639.2,966.5 640.5,966.1 641.7,965.9 643.5,966.1 643.9,965.9 645.6,965.6 650.0,965.3 651.7,965.1 652.1,964.9 652.6,965.0 653.0,964.8 654.7,964.9 655.6,964.6 657.3,964.6 662.1,963.8 662.5,964.0 663.4,963.8 664.7,963.8 665.6,963.5 666.0,963.7 667.3,963.3 667.7,963.5 669.0,963.3 669.9,963.3 672.0,962.9 672.5,963.1 672.9,962.9 675.1,962.9 675.9,962.6 680.3,962.3 680.7,962.1 681.1,962.2 684.2,962.0 686.3,961.6 688.5,961.6 691.5,961.0 692.0,961.2 697.1,960.7 697.6,960.5 700.6,960.5 702.3,960.0 704.1,960.2 704.9,960.0 706.2,960.0 706.7,959.7 708.4,959.8 709.7,959.5 711.4,959.5 712.3,959.3 714.0,959.3 715.3,959.0 717.9,958.9 718.4,958.7 719.7,958.8 720.5,958.7 721.0,958.4 721.4,958.6 722.7,958.3 724.8,958.4 725.7,958.1 727.0,958.2 728.3,958.0 728.7,958.2 729.2,957.9 730.5,957.8 730.9,958.0 731.8,957.6 733.5,957.6 736.1,957.3 737.0,957.4 738.3,957.0 739.1,957.2 741.3,956.9 741.7,957.1 742.2,956.7 745.6,956.7 747.4,956.4 749.1,956.4 750.4,956.2 751.7,956.3 753.8,955.8 756.4,956.0 756.9,955.7 759.0,955.7 759.9,955.4 760.3,955.6 763.4,955.1 765.1,955.3 766.4,954.9 767.3,955.1 767.7,954.9 768.1,955.0 769.9,954.6 770.7,954.6 771.2,954.8 775.1,954.3 776.8,954.3 777.2,954.4 778.1,954.2 779.4,954.3 780.2,954.0 783.3,954.0 784.6,953.6 785.9,953.7 786.3,953.3 787.2,953.7 788.0,953.4 790.2,953.4 791.9,953.1 792.8,953.3 796.3,952.8 801.5,952.6 802.8,952.4 804.9,952.5 806.2,952.2 807.1,952.3 808.4,951.9 808.8,952.1 810.5,951.9 811.8,951.9 814.0,951.6 814.4,951.8 815.3,951.8 815.7,951.5 821.4,951.3 822.2,951.0 822.7,951.2 823.5,950.9 826.6,951.1 827.0,950.7 827.9,950.9 828.7,950.6 830.0,950.8 830.5,950.4 833.1,950.6 833.5,950.4 834.8,950.4 835.2,950.2 835.6,950.3 836.5,950.1 836.9,950.3 840.0,950.0 840.4,950.1 840.8,949.9 841.3,950.1 841.7,949.9 843.4,949.9 844.3,949.6 845.2,949.7 845.6,949.4 846.0,949.7 846.5,949.7 846.9,949.4 847.8,949.6 848.2,949.4 849.9,949.5 852.1,949.2 852.5,949.3 853.0,949.0 853.4,949.2 855.1,949.0 855.6,949.3 856.0,949.0 857.3,949.0 857.7,948.7 858.6,948.9 859.0,948.7 860.3,948.7 861.2,948.4 862.5,948.7 863.3,948.4 864.6,948.6 865.5,948.2 869.4,948.2 870.3,948.1 870.7,947.8 872.0,948.0 872.4,947.8 873.7,948.1 874.6,947.7 875.0,947.9 875.9,947.7 876.3,947.8 876.8,947.6 878.1,947.7 878.9,947.4 881.5,947.4 882.4,947.2 882.8,947.4 883.3,947.1 884.1,947.3 884.6,947.1 885.4,947.3 887.2,947.0 889.3,946.9 889.8,946.6 891.0,947.0 894.1,946.4 894.9,946.7 895.4,946.3 896.2,946.6 897.1,946.5 897.5,946.2 898.8,946.4 901.4,946.0 901.9,946.3 903.2,945.8 903.6,946.2 904.9,945.8 905.3,946.1 905.8,945.8 906.2,946.1 907.1,945.5 907.5,945.9 908.8,945.7 909.7,945.8 910.5,945.4 911.0,945.7 911.4,945.5 911.8,945.7 912.3,945.5 913.1,945.4 913.6,945.2 914.0,945.5 914.4,945.3 915.3,945.5 915.7,945.3 917.9,945.3 919.2,945.0 919.6,945.2 920.0,944.8 920.5,945.0 921.8,944.9 922.6,945.1 923.5,944.6 925.7,944.8 927.4,944.5 927.8,944.5 928.3,944.9 928.7,944.5 929.6,944.2 930.0,944.6 930.9,944.3 931.3,944.7 932.2,944.1 933.0,944.4 933.9,944.1 934.3,944.4 934.8,944.4 935.2,944.0 935.6,943.9 936.9,944.2 937.8,943.9 938.7,944.0 939.5,943.7 940.4,944.0 941.7,943.7 942.1,943.9 942.6,943.5 943.0,943.7 944.3,943.5 944.7,943.7 945.6,943.5 946.0,943.6 947.3,943.4 947.7,943.5 948.2,943.3 949.9,943.3 950.3,943.5 950.8,943.0 951.2,943.3 952.1,943.3 952.5,943.0 952.9,943.3 953.4,942.9 953.8,943.2 955.1,942.9 956.0,943.0 956.8,942.7 957.3,942.7 957.7,943.0 961.6,942.5 962.0,942.6 962.5,942.5 963.3,942.7 963.8,942.5 964.6,942.7 965.1,942.2 965.9,942.5 966.4,942.3 967.2,942.4 967.7,942.2 968.5,942.5 969.4,942.1 970.3,942.1 970.7,942.3 971.6,942.0 974.6,942.0 976.3,941.7 976.7,941.9 977.6,941.8 978.0,941.4 978.5,942.0 979.8,941.7 980.6,942.0 981.1,941.5 981.5,941.6 983.2,941.3 983.7,941.5 984.1,941.2 984.5,941.6 985.8,941.0 986.7,941.3 987.1,941.1 987.6,941.4 988.9,941.0 991.9,941.2 992.8,940.9 994.1,940.9 994.9,940.7 995.4,940.9 996.2,940.8 996.7,940.5 997.1,940.8 997.5,940.8 998.0,940.6 999.7,940.7 1000.5,940.4 1001.4,940.7 1002.3,940.3 1003.6,940.5 1004.0,940.2 1006.2,940.3 1007.0,940.1 1007.5,940.5 1007.9,939.9 1008.3,939.9 1008.8,940.2 1011.8,939.8 1012.7,939.8 1013.1,940.0 1014.4,939.7 1014.8,939.9 1015.3,939.5 1016.1,939.8 1017.0,939.5 1017.4,939.7 1019.2,939.4 1020.0,939.7 1020.5,939.4 1020.9,939.5 1021.3,939.3 1022.6,939.3 1023.5,939.6 1023.9,939.2 1024.4,939.4 1027.8,938.9 1029.5,939.2 1030.4,938.9 1031.3,939.0 1032.6,938.6 1033.4,939.0 1033.9,938.7 1035.6,938.8 1036.0,938.4 1036.5,938.6 1037.8,938.7 1038.2,938.5 1039.1,938.7 1039.5,938.4 1040.8,938.5 1041.2,938.1 1042.5,938.4 1043.4,938.1 1043.8,938.5 1044.7,938.1 1045.6,938.3 1046.4,937.9 1047.7,938.2 1048.2,937.9 1048.6,938.0 1049.0,937.8 1049.5,938.0 1049.9,937.7 1050.3,937.8 1052.1,937.5 1052.5,938.0 1053.8,937.7 1054.2,937.9 1054.7,937.7 1056.4,937.8 1056.8,937.6 1057.7,937.6 1058.1,937.4 1058.5,937.3 1059.0,937.6 1059.4,937.2 1059.8,937.6 1061.6,937.4 1062.0,937.6 1062.4,937.3 1063.3,937.4 1063.7,937.1 1064.2,937.4 1065.9,936.8 1066.3,937.4 1066.8,936.9 1067.2,936.9 1067.6,937.2 1069.8,936.8 1071.5,937.0 1072.4,936.5 1072.8,936.9 1073.7,936.4 1074.1,936.9 1075.0,936.7 1077.2,936.6 1078.0,936.6 1078.5,936.9 1079.3,936.4 1081.9,936.3 1082.8,936.5 1084.1,936.1 1084.9,936.2 1086.2,936.0 1086.7,936.1 1087.1,935.8 1088.4,936.1 1089.3,935.8 1090.6,936.1 1091.9,935.8 1092.3,935.9 1093.2,935.6 1093.6,935.9 1094.0,935.7 1095.3,935.8 1095.8,935.2 1096.6,935.8 1097.1,935.4 1097.5,935.7 1098.4,935.4 1098.8,935.5 1099.2,935.2 1100.1,935.6 1100.5,935.2 1101.4,935.6 1102.3,935.3 1102.7,935.6 1103.1,935.1 1104.9,935.4 1105.3,935.0 1105.7,935.2 1106.2,935.1 1106.6,935.3 1107.9,934.9 1109.6,935.1 1110.1,934.9 1110.5,935.2 1111.8,934.7 1112.6,935.0 1113.5,935.0 1114.8,934.7 1115.7,934.7 1116.1,934.5 1116.5,934.7 1117.0,934.5 1117.8,934.5 1118.7,935.0 1119.1,934.4 1120.0,934.8 1120.4,934.4 1121.7,934.5 1122.2,934.2 1123.5,934.8 1123.9,934.3 1124.8,934.3 1125.2,933.9 1126.1,934.5 1126.5,934.2 1127.8,934.2 1128.2,934.0 1128.7,934.4 1129.1,934.0 1129.5,934.0 1130.0,934.3 1130.8,934.0 1131.3,934.3 1131.7,934.0 1132.1,934.1 1133.0,933.7 1133.9,934.1 1134.3,933.8 1135.2,933.9 1136.5,933.9 1137.3,933.7 1137.8,933.9 1139.0,933.8 1139.5,933.2 1139.9,933.7 1140.3,933.6 1140.8,933.3 1141.2,933.9 1142.1,933.5 1143.4,933.5 1143.8,933.2 1144.7,933.5 1145.5,933.5 1146.0,933.2 1146.8,933.4 1148.1,933.1 1148.6,933.3 1149.4,933.3 1150.7,932.9 1151.2,933.1 1152.0,932.8 1153.3,933.2 1154.2,933.2 1154.6,932.9 1155.9,932.8 1156.4,933.2 1157.2,933.0 1157.7,933.3 1158.1,933.1 1158.5,932.7 1159.0,932.9 1159.4,932.6 1159.8,932.9 1160.3,932.4 1161.1,932.5 1161.6,933.0 1162.0,932.4 1162.4,932.8 1163.3,932.6 1164.2,933.0 1164.6,932.6 1165.0,932.5 1165.5,932.7 1166.3,932.3 1166.8,932.5 1167.6,932.2 1168.9,932.1 1169.3,932.4 1169.8,932.4 1170.2,931.9 1171.1,932.3 1171.5,932.0 1172.4,932.2 1172.8,931.9 1173.2,932.1 1173.7,931.7 1174.1,932.2 1175.0,931.8 1175.8,931.8 1176.3,932.2 1176.7,931.9 1177.6,931.9 1178.0,931.7 1178.4,932.1 1178.9,931.5 1179.3,932.0 1179.7,931.7 1181.0,932.0 1181.5,931.6 1181.9,931.9 1183.2,931.7 1183.6,931.9 1184.1,931.8 1184.5,931.9 1184.9,931.8 1185.4,931.3 1186.2,931.8 1186.7,931.4 1187.5,931.1 1188.0,931.8 1188.4,931.3 1188.8,931.5 1189.3,931.3 1190.1,931.7 1190.6,931.2 1191.0,931.4 1191.9,931.0 1193.2,931.5 1193.6,931.5 1194.4,931.0 1194.9,931.3 1196.2,931.0 1197.0,931.5 1198.8,931.0 1200.1,931.1 1200.9,930.8 1201.4,931.1 1201.8,930.9 1202.2,931.1 1202.7,930.9 1204.4,930.9 1205.3,930.6 1206.1,931.0 1206.6,930.6 1207.0,930.6 1207.4,931.1 1207.9,930.4 1208.3,930.6 1209.6,930.5 1210.0,930.8 1210.9,930.6 1211.3,930.3 1211.8,930.7 1214.4,930.5 1215.7,930.1 1216.1,930.5 1216.5,930.2 1217.8,930.6 1218.3,930.2 1219.1,930.2 1219.6,930.0 1220.0,930.1 1220.4,930.7 1220.9,930.1 1221.3,930.4 1221.7,930.3 1222.2,930.4 1223.4,929.8 1223.9,930.3 1225.2,930.1 1225.6,929.8 1226.5,929.9 1226.9,929.6 1227.8,929.9 1228.2,929.5 1228.6,930.0 1229.9,929.8 1230.4,929.5 1231.2,929.9 1232.1,929.9 1232.5,929.7 1233.0,930.0 1233.4,929.7 1234.3,929.8 1235.1,929.4 1235.6,929.7 1236.0,929.3 1236.9,929.7 1237.3,929.3 1238.6,929.3 1239.0,929.8 1239.5,929.5 1239.9,929.6 1240.3,929.0 1240.8,928.9 1241.6,929.5 1242.1,929.5 1242.5,928.9 1242.9,929.0 1243.4,929.4 1244.7,929.3 1245.1,929.0 1245.5,929.2 1246.0,929.1 1246.4,929.4 1247.3,928.8 1247.7,929.3 1248.1,929.4 1249.4,928.8 1249.8,929.2 1250.3,928.9 1251.1,929.1 1252.0,928.6 1252.4,929.0 1253.3,928.6 1253.7,928.8 1255.0,928.9 1255.5,928.4 1256.3,929.0 1257.2,928.6 1258.1,928.9 1259.4,928.3 1259.8,928.9 1260.2,928.9 1260.7,928.6 1261.1,928.9 1261.5,928.5 1262.0,928.7 1262.4,928.3 1263.7,928.6 1264.1,928.6 1264.6,928.3 1266.3,928.3 1267.2,928.5 1267.6,928.0 1268.0,928.5 1268.5,928.3 1270.2,928.4 1270.6,927.9 1271.1,928.3 1271.5,928.0 1271.9,928.2 1272.4,928.2 1272.8,927.8 1273.2,928.1 1274.1,928.0 1274.5,928.4 1275.4,928.0 1275.8,928.3 1277.1,927.6 1277.5,928.1 1278.4,928.3 1278.8,927.7 1279.3,928.1 1279.7,928.1 1281.0,927.5 1281.4,927.8 1282.3,927.4 1282.7,927.9 1283.6,927.7 1284.0,928.1 1284.9,927.3 1285.3,927.2 1285.8,927.7 1287.1,927.2 1288.4,927.5 1290.1,927.3 1290.5,927.5 1291.0,926.8 1291.8,927.6 1292.7,927.2 1293.1,927.3 1294.0,927.3 1294.4,927.6 1294.9,927.2 1295.3,927.3 1296.6,927.0 1299.2,927.3 1299.6,927.1 1300.1,927.4 1300.5,927.2 1300.9,927.3 1301.4,927.1 1301.8,927.3 1302.7,926.7 1303.1,927.0 1304.0,926.7 1304.8,926.8 1305.2,927.4 1305.7,927.0 1306.1,927.2 1307.4,927.0 1307.8,926.6 1308.3,927.1 1308.7,926.6 1309.1,926.9 1309.6,926.8 1310.0,927.1 1310.9,927.1 1311.7,926.7 1312.6,927.1 1313.9,926.4 1315.2,926.7 1316.5,926.6 1317.4,926.9 1317.8,926.7 1319.1,926.8 1319.5,926.2 1321.3,926.6 1321.7,926.0 1322.1,926.4 1323.0,926.2 1323.9,926.5 1324.7,926.3 1325.6,926.2 1326.0,926.4 1326.5,926.2 1326.9,926.4 1327.3,926.1 1327.8,926.2 1328.2,925.9 1329.1,926.3 1329.5,925.9 1330.4,926.1 1330.8,926.0 1331.2,926.2 1331.7,925.8 1332.1,926.2 1333.0,926.3 1334.2,925.7 1334.7,926.1 1336.4,926.0 1337.3,925.6 1338.1,925.7 1339.0,925.5 1339.4,925.7 1339.9,925.6 1340.3,925.9 1340.7,925.7 1341.2,925.9 1341.6,925.5 1342.5,925.4 1343.3,926.3 1343.8,925.7 1344.2,925.6 1345.5,925.8 1346.8,925.2 1347.2,925.6 1347.7,925.7 1348.5,925.3 1349.8,925.6 1350.3,925.5 1350.7,925.7 1351.6,925.3 1352.0,925.8 1352.4,925.2 1352.9,925.2 1353.3,925.8 1353.7,925.4 1354.2,925.7 1354.6,924.8 1355.0,925.6 1355.5,925.3 1356.3,925.4 1356.8,924.7 1358.1,925.9 1358.5,925.1 1358.9,925.7 1359.4,925.3 1359.8,925.4 1360.2,925.0 1360.6,925.3 1361.5,924.9 1361.9,925.4 1362.4,925.0 1363.2,925.2 1364.1,924.8 1365.4,925.3 1365.8,924.8 1366.3,925.1 1367.1,924.9 1368.0,925.0 1368.9,924.7 1369.3,925.1 1369.7,924.7 1370.2,924.7 1370.6,925.0 1371.9,924.6 1373.2,924.5 1373.6,925.1 1374.5,924.3 1375.4,924.9 1375.8,924.5 1376.2,924.7 1377.1,924.4 1378.8,924.8 1379.3,924.6 1379.7,925.2 1380.1,924.4 1380.6,924.9 1381.0,924.7 1381.4,924.9 1381.9,924.7 1382.3,924.1 1383.2,924.8 1384.0,924.3 1385.3,924.8 1385.8,924.4 1386.2,924.5 1387.1,924.2 1387.9,924.7 1388.8,924.3 1389.6,924.5 1390.9,924.3 1391.4,924.5 1391.8,924.2 1392.2,924.5 1392.7,923.9 1394.0,924.4 1394.4,924.1 1395.3,924.3 1397.0,924.0 1397.4,924.4 1398.3,924.4 1398.7,924.7 1400.0,924.1 1400.5,924.7 1400.9,924.2 1401.3,924.1 1401.8,924.4 1402.6,924.1 1403.5,924.5 1403.9,924.1 1404.4,924.2 1404.8,923.9 1405.7,924.3 1406.1,924.0 1407.0,924.3 1407.4,924.0 1407.8,924.4 1408.3,923.9 1409.6,923.6 1410.0,924.1 1410.4,924.0 1410.9,924.3 1411.3,923.8 1412.2,924.3 1412.6,923.9 1413.0,923.9 1413.5,923.3 1413.9,924.4 1414.3,923.9 1414.8,924.1 1415.2,923.8 1415.6,924.0 1416.0,923.6 1416.5,924.0 1417.3,923.7 1417.8,923.9 1418.2,923.4 1418.6,923.9 1419.1,923.7 1419.5,924.2 1420.8,923.7 1421.2,924.5 1421.7,923.5 1422.1,924.2 1423.0,923.9 1423.4,923.2 1423.8,923.9 1424.7,923.5 1425.1,923.8 1425.6,923.5 1426.0,923.8 1426.4,923.4 1426.9,923.8 1428.2,923.4 1429.5,923.5 1429.9,924.1 1430.8,923.5 1431.6,923.4 1432.1,923.7 1434.2,923.3 1434.7,923.6 1435.1,923.3 1435.5,923.7 1436.0,923.4 1436.4,923.7 1437.3,923.0 1438.6,923.6 1439.9,923.7 1441.2,923.4 1441.6,923.6 1442.0,923.4 1442.9,923.5 1443.3,924.1 1443.8,923.0 1445.0,923.5 1445.5,923.4 1445.9,923.9 1446.3,923.0 1446.8,923.9 1447.2,923.0 1448.1,923.5 1448.9,923.4 1450.2,923.6 1450.7,923.5 1451.1,923.0 1451.5,923.1 1452.0,923.7 1452.4,923.9 1452.8,923.6 1453.3,923.6 1453.7,923.4 1454.1,923.9 1454.6,923.2 1455.4,923.1 1455.9,923.8 1456.3,923.2 1456.7,923.5 1457.2,922.9 1457.6,922.9 1458.0,923.6 1458.9,923.5 1460.6,922.9 1461.1,923.2 1461.5,923.7 1461.9,923.2 1462.4,923.7 1462.8,923.2 1463.2,920.8 1463.7,922.3 1464.1,921.9 1464.5,922.6 1465.0,922.7 1465.4,923.9 1465.8,924.0 1466.3,923.3 1466.7,924.0 1467.1,923.0 1467.6,923.2 1468.0,923.9 1468.4,923.4 1468.9,923.7 1469.3,921.6 1469.7,923.4 1470.2,921.5 1470.6,923.1 1471.0,922.1 1471.5,922.6 1471.9,926.0 1472.3,920.3 1472.7,923.9 1473.6,924.3 1474.9,922.6 1475.3,920.3 1475.8,922.0 1476.2,921.9 1476.6,929.3 1477.1,920.1 1477.5,921.5 1477.9,922.0 1478.4,924.0 1478.8,924.8 1479.2,923.7 1480.1,922.4 1480.5,925.1 1481.0,924.4 1481.4,922.0 1482.3,924.0 1482.7,928.9 1483.1,922.5 1483.6,926.2 1484.0,925.6 1484.4,922.3 1484.9,925.6 1485.3,921.2 1485.7,921.2 1486.2,924.0 1486.6,921.1 1487.0,926.7 1487.5,923.7 1487.9,922.4 1488.3,921.7 1488.8,932.6 1489.2,922.1 1489.6,925.2 1490.1,923.0 1490.5,924.1 1490.9,921.9 1491.4,929.1 1491.8,932.2 1492.7,910.6 1493.1,925.1 1493.5,933.1 1494.0,920.0 1494.4,923.6 1494.8,945.9 1495.3,923.9 1495.7,922.2 1496.1,925.2 1496.6,931.1 1497.0,916.4 1497.4,922.1 1498.3,923.7 1498.7,927.1 1499.1,924.5 1499.6,916.7 1500.0,924.8 1500.4,924.7 1500.9,925.5 1501.3,915.5 1501.7,923.1 1502.2,925.1 1503.0,918.3 1503.5,922.5 1504.3,926.5 1504.8,922.5 1505.2,928.4 1505.6,919.3 1506.1,919.7 1506.5,924.8 1506.9,918.1 1507.4,921.4 1507.8,915.5 1508.2,924.8 1508.7,918.0 1509.1,923.0 1509.5,917.8 1510.0,924.9 1510.4,926.8 1511.3,920.2 1511.7,924.7 1512.1,926.5 1512.6,925.8 1513.4,929.5 1513.9,924.1 1514.7,921.3 1515.2,923.3 1516.0,921.7 1516.5,924.5 1516.9,929.8 1517.3,920.8 1517.8,921.8 1518.2,922.2 1518.6,920.0 1519.1,926.8 1519.5,922.9 1519.9,925.3 1520.4,918.1 1520.8,925.2 1521.2,923.0 1521.7,918.6 1522.1,926.2 1522.5,926.5 1523.0,924.1 1523.4,924.9 1523.8,920.3 1524.3,926.8 1524.7,923.9 1525.1,925.0 1525.6,925.4 1526.0,925.0 1526.4,921.0 1526.8,924.4 1527.3,923.9 1527.7,927.4 1528.1,920.9 1528.6,920.9 1529.0,925.1 1529.4,923.7 1529.9,929.9 1530.7,921.7 1531.2,924.5 1531.6,921.0 1532.0,919.6 1532.5,921.8 1532.9,921.9 1533.3,929.4 1533.8,926.3 1534.2,915.3 1534.6,923.0 1535.1,921.2 1535.5,915.2 1535.9,924.2 1536.4,923.7 1536.8,925.0 1537.2,929.1 1537.7,928.5 1538.1,923.1 1538.5,927.9 1539.0,923.3 1539.4,925.3 1539.8,916.4 1540.7,924.6 1541.1,922.2 1541.6,925.0 1542.0,925.3 1542.4,918.3 1542.9,921.0 1543.3,920.2 1543.7,926.6 1544.6,921.3 1545.0,921.2 1545.5,923.6 1545.9,915.5 1546.8,929.3 1547.2,918.7 1547.6,919.5 1548.1,919.7 1548.5,925.4 1548.9,918.7 1549.4,930.5 1549.8,923.1 1550.2,922.0 1550.7,927.6 1551.1,926.3 1551.5,927.7 1552.0,924.5 1552.4,928.6 1552.8,928.4 1553.3,925.2 1553.7,924.1 1554.1,921.9 1554.5,924.7 1555.0,922.7 1555.4,929.4 1555.8,921.4 1556.3,923.4 1556.7,922.6 1557.6,928.0 1558.0,925.1 1558.4,927.9 1558.9,922.4 1559.7,926.6 1560.2,924.9 1560.6,925.6 1561.0,928.0 1561.5,921.0 1561.9,928.0 1562.3,922.3 1562.8,926.2 1563.6,918.5 1564.1,926.7 1564.5,929.3 1564.9,923.9 1565.4,924.8 1565.8,929.6 1566.2,921.4 1566.7,928.0 1567.1,920.0 1567.5,917.2 1568.0,925.9 1568.4,923.5 1568.8,922.6 1569.3,915.2 1569.7,926.0 1570.6,920.0 1571.0,924.2 1571.4,919.9 1571.9,921.6 1572.3,921.4 1572.7,928.5 1573.2,924.2 1573.6,929.8 1574.0,921.4 1574.5,919.9 1574.9,931.7 1575.3,919.1 1575.8,929.6 1576.2,918.0 1576.6,927.6 1577.1,921.7 1577.5,930.8 1577.9,925.1 1578.4,929.0 1578.8,926.2 1579.2,929.3 1579.7,928.1 1580.1,933.5 1580.5,923.0 1581.0,920.2 1581.4,932.3 1581.8,905.7 1582.2,928.0 1582.7,925.8 1583.1,926.1 1583.5,923.9 1584.0,924.5 1584.4,918.1 1584.8,922.7 1585.3,921.5 1585.7,930.0 1586.1,923.9 1586.6,903.8 1587.0,918.2 1587.4,925.5 1587.9,926.9 1588.3,926.0 1588.7,937.3 1589.2,924.0 1589.6,922.7 1590.0,929.4 1590.5,923.4 1590.9,920.9 1591.3,924.9 1591.8,923.7 1592.2,929.9 1592.6,928.5 1593.1,919.2 1593.5,927.6 1593.9,919.7 1594.4,926.3 1594.8,928.0 1595.2,923.3 1595.7,923.3 1596.1,928.9 1597.0,920.7 1597.4,932.7 1597.8,929.5 1598.3,927.7 1598.7,921.5 1599.1,930.2 1599.6,926.1 1600.0,929.2 1600.4,927.2 1600.9,922.8 1601.3,930.5 1602.2,922.3 1602.6,924.0 1603.0,904.8 1603.5,918.6 1603.9,919.5 1604.3,929.1 1604.8,929.0 1605.2,931.1 1606.1,917.3 1606.5,923.9 1607.4,921.8 1607.8,926.8 1608.2,923.1 1608.7,921.9 1609.1,923.6 1609.5,926.6 1610.0,920.3 1610.4,925.9 1610.8,925.9 1611.2,933.3 1612.1,920.4 1612.5,927.1 1613.0,926.9 1613.8,912.9 1614.3,929.3 1615.1,923.0 1616.0,931.6 1616.4,933.6 1616.9,924.2 1617.3,927.3 1617.7,926.0 1618.2,916.0 1618.6,925.9 1619.0,926.0 1619.5,925.7 1619.9,923.4 1620.3,926.4 1620.8,922.1 1621.2,928.7 1621.6,923.7 1622.1,928.4 1622.5,925.9 1622.9,912.0 1623.4,931.3 1623.8,927.7 1624.7,925.1 1625.1,933.9 1625.5,925.6 1626.0,930.5 1626.4,927.4 1626.8,921.3 1627.3,929.5 1627.7,920.5 1628.1,928.5 1628.6,928.3 1629.0,938.3 1629.4,923.8 1629.9,932.3 1630.3,933.8 1630.7,923.2 1631.2,925.3 1631.6,933.3 1632.0,925.2 1632.5,930.7 1632.9,923.1 1633.3,925.5 1634.2,928.7 1634.6,921.4 1635.1,923.0 1635.5,929.0 1635.9,932.0 1636.4,929.1 1636.8,928.5 1637.2,928.8 1637.6,922.6 1638.1,928.7 1638.5,930.6 1638.9,929.5 1639.4,922.9 1639.8,923.7 1640.2,931.5 1640.7,922.2 1641.1,923.4 1641.5,933.3 1642.0,924.1 1642.4,924.8 1642.8,929.8 1643.3,930.4 1644.1,922.3 1645.0,928.2 1645.4,924.3 1645.9,924.2 1646.3,932.2 1646.7,929.7 1647.2,930.6 1647.6,931.0 1648.0,924.2 1648.5,929.6 1648.9,932.1 1649.3,930.3 1649.8,923.8 1650.2,922.5 1650.6,925.2 1651.1,929.9 1651.5,927.4" stroke="#ff00ff"/>
</g>
<g fill="#000">
<rect x="264" y="62" width="5" height="1019"/>
<rect x="254" y="1076" width="1400" height="5"/>
<rect x="244" y="983.00" width="20" height="5"/>
<rect x="254" y="890.90" width="10" height="5"/>
<rect x="244" y="798.80" width="20" height="5"/>
<rect x="254" y="706.70" width="10" height="5"/>
<rect x="244" y="614.60" width="20" height="5"/>
<rect x="254" y="522.50" width="10" height="5"/>
<rect x="244" y="430.40" width="20" height="5"/>
<rect x="254" y="338.30" width="10" height="5"/>
<rect x="244" y="246.20" width="20" height="5"/>
<rect x="254" y="154.10" width="10" height="5"/>
<rect x="244" y="62.00" width="20" height="5"/>
<rect x="264.00" y="1081" width="5" height="20"/>
<rect x="350.56" y="1081" width="5" height="10"/>
<rect x="437.12" y="1081" width="5" height="20"/>
<rect x="523.69" y="1081" width="5" height="10"/>
<rect x="610.25" y="1081" width="5" height="20"/>
<rect x="696.81" y="1081" width="5" height="10"/>
<rect x="783.38" y="1081" width="5" height="20"/>
<rect x="869.94" y="1081" width="5" height="10"/>
<rect x="956.50" y="1081" width="5" height="20"/>
<rect x="1043.06" y="1081" width="5" height="10"/>
<rect x="1129.62" y="1081" width="5" height="20"/>
<rect x="1216.19" y="1081" width="5" height="10"/>
<rect x="1302.75" y="1081" width="5" height="20"/>
<rect x="1389.31" y="1081" width="5" height="10"/>
<rect x="1475.88" y="1081" width="5" height="20"/>
<rect x="1562.44" y="1081" width="5" height="10"/>
<rect x="1649.00" y="1081" width="5" height="20"/>
</g>
<g>
<rect x="833" y="639" width="118" height="5" fill="#000000"/>
<rect x="833" y="700" width="118" height="5" fill="#ff0000"/>
<rect x="833" y="761" width="118" height="5" fill="#00ff00"/>
<rect x="833" y="822" width="118" height="5" fill="#0000ff"/>
<rect x="833" y="883" width="118" height="5" fill="#ff00ff"/>
</g>
<text font-size="51.00" text-anchor="end" textLength="24.0" lengthAdjust="spacing" x="236.50" y="996.50">0</text>
<text font-size="51.00" text-anchor="end" textLength="54.0" lengthAdjust="spacing" x="236.50" y="812.50">20</text>
<text font-size="51.00" text-anchor="end" textLength="53.0" lengthAdjust="spacing" x="237.00" y="628.50">40</text>
<text font-size="51.00" text-anchor="end" textLength="54.0" lengthAdjust="spacing" x="236.50" y="444.50">60</text>
<text font-size="51.00" text-anchor="end" textLength="54.0" lengthAdjust="spacing" x="236.50" y="260.50">80</text>
<text font-size="51.00" text-anchor="end" textLength="76.0" lengthAdjust="spacing" x="236.50" y="76.50">100</text>
<text font-size="51.00" text-anchor="middle" textLength="79.0" lengthAdjust="spacing" x="268.50" y="1146.50">200</text>
<text font-size="51.00" text-anchor="middle" textLength="78.0" lengthAdjust="spacing" x="441.62" y="1146.50">300</text>
<text font-size="51.00" text-anchor="middle" textLength="78.0" lengthAdjust="spacing" x="615.25" y="1146.50">400</text>
<text font-size="51.00" text-anchor="middle" textLength="80.0" lengthAdjust="spacing" x="787.38" y="1146.50">500</text>
<text font-size="51.00" text-anchor="middle" textLength="79.0" lengthAdjust="spacing" x="960.00" y="1146.50">600</text>
<text font-size="51.00" text-anchor="middle" textLength="79.0" lengthAdjust="spacing" x="1134.12" y="1146.50">700</text>
<text font-size="51.00" text-anchor="middle" textLength="79.0" lengthAdjust="spacing" x="1307.25" y="1146.50">800</text>
<text font-size="51.00" text-anchor="middle" textLength="80.0" lengthAdjust="spacing" x="1480.38" y="1146.50">900</text>
<text font-size="51.00" text-anchor="middle" textLength="101.0" lengthAdjust="spacing" x="1654.00" y="1146.50">1000</text>
<text font-size="56.00" text-anchor="middle" textLength="386.0" lengthAdjust="spacing" x="961.00" y="1227.00">Wavelength (nm)</text>
<text font-size="56.00" text-anchor="middle" textLength="78.0" lengthAdjust="spacing" transform="translate(79.00,572.00) rotate(-90)">T%</text>
<text font-size="76.00" text-anchor="start" font-weight="bold" textLength="64.0" lengthAdjust="spacing" x="66.00" y="82.00">c)</text>
<text font-size="56.00" text-anchor="start" textLength="153.0" lengthAdjust="spacing" x="961.50" y="657.00">EB150</text>
<text font-size="56.00" text-anchor="start" textLength="742.0" lengthAdjust="spacing" x="961.50" y="718.00">EB150+0.01% Biochar/MWCNTs</text>
<text font-size="56.00" text-anchor="start" textLength="714.0" lengthAdjust="spacing" x="961.50" y="779.00">EB150+0.1% Biochar/MWCNTs</text>
<text font-size="56.00" text-anchor="start" textLength="714.0" lengthAdjust="spacing" x="961.50" y="841.00">EB150+0.5% Biochar/MWCNTs</text>
<text font-size="56.00" text-anchor="start" textLength="672.0" lengthAdjust="spacing" x="961.50" y="902.00">EB150+1% Biochar/MWCNTs</text>
</svg>
</body></html>
